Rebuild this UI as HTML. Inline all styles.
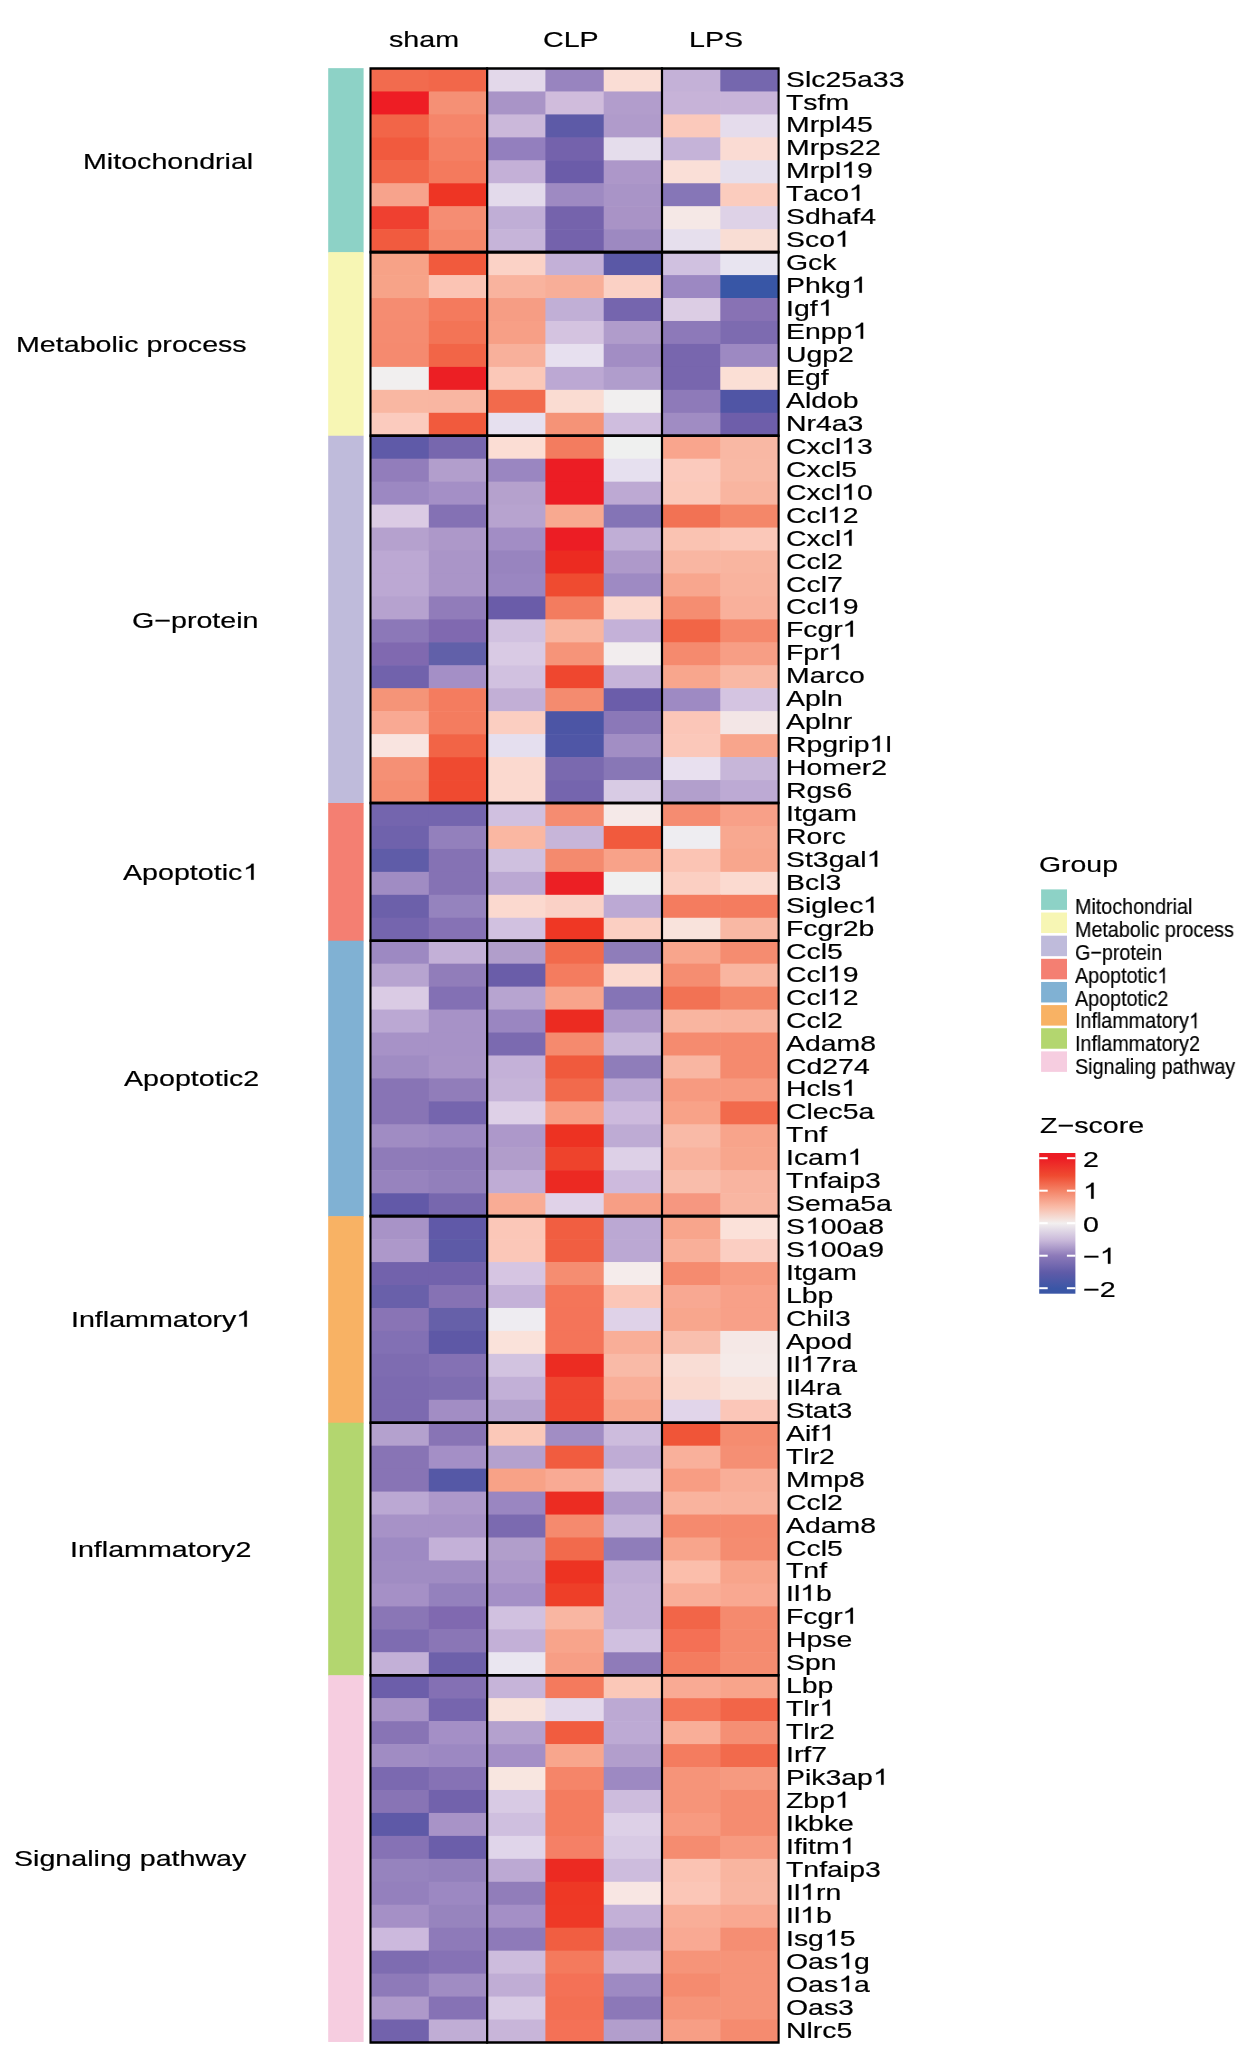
<!DOCTYPE html><html><head><meta charset="utf-8"><style>
html,body{margin:0;padding:0;background:#fff;}
body{width:1250px;height:2061px;position:relative;overflow:hidden;font-family:"Liberation Sans",sans-serif;color:#000;}
.t{position:absolute;white-space:nowrap;transform-origin:0 0;will-change:transform;font-kerning:none;font-feature-settings:"kern" 0;-webkit-text-stroke:0.2px #000;}
svg.m{position:absolute;left:0;top:0;}
</style></head><body>
<svg class="m" width="1250" height="2061" viewBox="0 0 1250 2061">
<rect x="370.5" y="68.5" width="58.9" height="23.55" fill="#F26B4E"/>
<rect x="428.8" y="68.5" width="58.9" height="23.55" fill="#F2674A"/>
<rect x="487.1" y="68.5" width="58.9" height="23.55" fill="#E3D8EA"/>
<rect x="545.4" y="68.5" width="58.9" height="23.55" fill="#9884BF"/>
<rect x="603.7" y="68.5" width="58.9" height="23.55" fill="#FADDD5"/>
<rect x="662" y="68.5" width="58.9" height="23.55" fill="#C4B1D7"/>
<rect x="720.3" y="68.5" width="58.9" height="23.55" fill="#7567AE"/>
<rect x="370.5" y="91.45" width="58.9" height="23.55" fill="#EE1D24"/>
<rect x="428.8" y="91.45" width="58.9" height="23.55" fill="#F59075"/>
<rect x="487.1" y="91.45" width="58.9" height="23.55" fill="#A994C7"/>
<rect x="545.4" y="91.45" width="58.9" height="23.55" fill="#D0BCDC"/>
<rect x="603.7" y="91.45" width="58.9" height="23.55" fill="#B29DCC"/>
<rect x="662" y="91.45" width="58.9" height="23.55" fill="#C7B3D8"/>
<rect x="720.3" y="91.45" width="58.9" height="23.55" fill="#C8B4D9"/>
<rect x="370.5" y="114.41" width="58.9" height="23.55" fill="#F26548"/>
<rect x="428.8" y="114.41" width="58.9" height="23.55" fill="#F5856A"/>
<rect x="487.1" y="114.41" width="58.9" height="23.55" fill="#CBB8DA"/>
<rect x="545.4" y="114.41" width="58.9" height="23.55" fill="#5D5AA7"/>
<rect x="603.7" y="114.41" width="58.9" height="23.55" fill="#B09BCB"/>
<rect x="662" y="114.41" width="58.9" height="23.55" fill="#FBC9BB"/>
<rect x="720.3" y="114.41" width="58.9" height="23.55" fill="#E5DCEC"/>
<rect x="370.5" y="137.36" width="58.9" height="23.55" fill="#F15A3E"/>
<rect x="428.8" y="137.36" width="58.9" height="23.55" fill="#F47F63"/>
<rect x="487.1" y="137.36" width="58.9" height="23.55" fill="#937FBE"/>
<rect x="545.4" y="137.36" width="58.9" height="23.55" fill="#7462AC"/>
<rect x="603.7" y="137.36" width="58.9" height="23.55" fill="#E5DDEC"/>
<rect x="662" y="137.36" width="58.9" height="23.55" fill="#C5B3D8"/>
<rect x="720.3" y="137.36" width="58.9" height="23.55" fill="#FADBD3"/>
<rect x="370.5" y="160.31" width="58.9" height="23.55" fill="#F26649"/>
<rect x="428.8" y="160.31" width="58.9" height="23.55" fill="#F47A5D"/>
<rect x="487.1" y="160.31" width="58.9" height="23.55" fill="#C4B0D7"/>
<rect x="545.4" y="160.31" width="58.9" height="23.55" fill="#6B5CA9"/>
<rect x="603.7" y="160.31" width="58.9" height="23.55" fill="#AD97C9"/>
<rect x="662" y="160.31" width="58.9" height="23.55" fill="#FADFD7"/>
<rect x="720.3" y="160.31" width="58.9" height="23.55" fill="#E5DFED"/>
<rect x="370.5" y="183.26" width="58.9" height="23.55" fill="#F7A38C"/>
<rect x="428.8" y="183.26" width="58.9" height="23.55" fill="#EE3524"/>
<rect x="487.1" y="183.26" width="58.9" height="23.55" fill="#E3DAEB"/>
<rect x="545.4" y="183.26" width="58.9" height="23.55" fill="#9E8AC2"/>
<rect x="603.7" y="183.26" width="58.9" height="23.55" fill="#A994C7"/>
<rect x="662" y="183.26" width="58.9" height="23.55" fill="#8676B7"/>
<rect x="720.3" y="183.26" width="58.9" height="23.55" fill="#FBCCBE"/>
<rect x="370.5" y="206.22" width="58.9" height="23.55" fill="#EF4030"/>
<rect x="428.8" y="206.22" width="58.9" height="23.55" fill="#F58D73"/>
<rect x="487.1" y="206.22" width="58.9" height="23.55" fill="#C0AED6"/>
<rect x="545.4" y="206.22" width="58.9" height="23.55" fill="#7563AC"/>
<rect x="603.7" y="206.22" width="58.9" height="23.55" fill="#A993C6"/>
<rect x="662" y="206.22" width="58.9" height="23.55" fill="#F5E8E6"/>
<rect x="720.3" y="206.22" width="58.9" height="23.55" fill="#DED2E7"/>
<rect x="370.5" y="229.17" width="58.9" height="23.55" fill="#F15B3F"/>
<rect x="428.8" y="229.17" width="58.9" height="23.55" fill="#F5876B"/>
<rect x="487.1" y="229.17" width="58.9" height="23.55" fill="#C6B4D9"/>
<rect x="545.4" y="229.17" width="58.9" height="23.55" fill="#7462AC"/>
<rect x="603.7" y="229.17" width="58.9" height="23.55" fill="#9D89C1"/>
<rect x="662" y="229.17" width="58.9" height="23.55" fill="#E6DFED"/>
<rect x="720.3" y="229.17" width="58.9" height="23.55" fill="#F9DDD4"/>
<rect x="370.5" y="252.12" width="58.9" height="23.55" fill="#F7A287"/>
<rect x="428.8" y="252.12" width="58.9" height="23.55" fill="#F15A3D"/>
<rect x="487.1" y="252.12" width="58.9" height="23.55" fill="#FBD2C6"/>
<rect x="545.4" y="252.12" width="58.9" height="23.55" fill="#C3B0D7"/>
<rect x="603.7" y="252.12" width="58.9" height="23.55" fill="#5A58A6"/>
<rect x="662" y="252.12" width="58.9" height="23.55" fill="#D0C1E0"/>
<rect x="720.3" y="252.12" width="58.9" height="23.55" fill="#E8E4F0"/>
<rect x="370.5" y="275.08" width="58.9" height="23.55" fill="#F7A388"/>
<rect x="428.8" y="275.08" width="58.9" height="23.55" fill="#FBC4B4"/>
<rect x="487.1" y="275.08" width="58.9" height="23.55" fill="#F9B39E"/>
<rect x="545.4" y="275.08" width="58.9" height="23.55" fill="#F8AE98"/>
<rect x="603.7" y="275.08" width="58.9" height="23.55" fill="#FBD1C5"/>
<rect x="662" y="275.08" width="58.9" height="23.55" fill="#9C88C2"/>
<rect x="720.3" y="275.08" width="58.9" height="23.55" fill="#3856A6"/>
<rect x="370.5" y="298.03" width="58.9" height="23.55" fill="#F58C71"/>
<rect x="428.8" y="298.03" width="58.9" height="23.55" fill="#F47A5D"/>
<rect x="487.1" y="298.03" width="58.9" height="23.55" fill="#F69D84"/>
<rect x="545.4" y="298.03" width="58.9" height="23.55" fill="#C1AFD6"/>
<rect x="603.7" y="298.03" width="58.9" height="23.55" fill="#7565AE"/>
<rect x="662" y="298.03" width="58.9" height="23.55" fill="#DCCDE4"/>
<rect x="720.3" y="298.03" width="58.9" height="23.55" fill="#8872B4"/>
<rect x="370.5" y="320.98" width="58.9" height="23.55" fill="#F58B70"/>
<rect x="428.8" y="320.98" width="58.9" height="23.55" fill="#F37456"/>
<rect x="487.1" y="320.98" width="58.9" height="23.55" fill="#F79F86"/>
<rect x="545.4" y="320.98" width="58.9" height="23.55" fill="#D4C3E0"/>
<rect x="603.7" y="320.98" width="58.9" height="23.55" fill="#B09CCB"/>
<rect x="662" y="320.98" width="58.9" height="23.55" fill="#8D79B9"/>
<rect x="720.3" y="320.98" width="58.9" height="23.55" fill="#7D6BB0"/>
<rect x="370.5" y="343.94" width="58.9" height="23.55" fill="#F58A6F"/>
<rect x="428.8" y="343.94" width="58.9" height="23.55" fill="#F26547"/>
<rect x="487.1" y="343.94" width="58.9" height="23.55" fill="#F8B09B"/>
<rect x="545.4" y="343.94" width="58.9" height="23.55" fill="#E7E0EF"/>
<rect x="603.7" y="343.94" width="58.9" height="23.55" fill="#A28DC4"/>
<rect x="662" y="343.94" width="58.9" height="23.55" fill="#7866AE"/>
<rect x="720.3" y="343.94" width="58.9" height="23.55" fill="#9D89C2"/>
<rect x="370.5" y="366.89" width="58.9" height="23.55" fill="#F1EFEF"/>
<rect x="428.8" y="366.89" width="58.9" height="23.55" fill="#EC1F24"/>
<rect x="487.1" y="366.89" width="58.9" height="23.55" fill="#FBC8B8"/>
<rect x="545.4" y="366.89" width="58.9" height="23.55" fill="#BCA8D3"/>
<rect x="603.7" y="366.89" width="58.9" height="23.55" fill="#B09DCC"/>
<rect x="662" y="366.89" width="58.9" height="23.55" fill="#7866AE"/>
<rect x="720.3" y="366.89" width="58.9" height="23.55" fill="#FBDFD5"/>
<rect x="370.5" y="389.84" width="58.9" height="23.55" fill="#F9B7A2"/>
<rect x="428.8" y="389.84" width="58.9" height="23.55" fill="#F9B6A2"/>
<rect x="487.1" y="389.84" width="58.9" height="23.55" fill="#F26A4C"/>
<rect x="545.4" y="389.84" width="58.9" height="23.55" fill="#FADCD2"/>
<rect x="603.7" y="389.84" width="58.9" height="23.55" fill="#F1EFEF"/>
<rect x="662" y="389.84" width="58.9" height="23.55" fill="#8E7AB9"/>
<rect x="720.3" y="389.84" width="58.9" height="23.55" fill="#5055A5"/>
<rect x="370.5" y="412.8" width="58.9" height="23.55" fill="#FBCBBE"/>
<rect x="428.8" y="412.8" width="58.9" height="23.55" fill="#F15A3D"/>
<rect x="487.1" y="412.8" width="58.9" height="23.55" fill="#E6E0EF"/>
<rect x="545.4" y="412.8" width="58.9" height="23.55" fill="#F59377"/>
<rect x="603.7" y="412.8" width="58.9" height="23.55" fill="#CFBDDE"/>
<rect x="662" y="412.8" width="58.9" height="23.55" fill="#A08CC3"/>
<rect x="720.3" y="412.8" width="58.9" height="23.55" fill="#6E5EAA"/>
<rect x="370.5" y="435.75" width="58.9" height="23.55" fill="#5F5AA8"/>
<rect x="428.8" y="435.75" width="58.9" height="23.55" fill="#7767AE"/>
<rect x="487.1" y="435.75" width="58.9" height="23.55" fill="#FBDDD4"/>
<rect x="545.4" y="435.75" width="58.9" height="23.55" fill="#F37C5F"/>
<rect x="603.7" y="435.75" width="58.9" height="23.55" fill="#EFF0EF"/>
<rect x="662" y="435.75" width="58.9" height="23.55" fill="#F9A58D"/>
<rect x="720.3" y="435.75" width="58.9" height="23.55" fill="#F9B8A4"/>
<rect x="370.5" y="458.7" width="58.9" height="23.55" fill="#927DBB"/>
<rect x="428.8" y="458.7" width="58.9" height="23.55" fill="#B29ECC"/>
<rect x="487.1" y="458.7" width="58.9" height="23.55" fill="#9A86C1"/>
<rect x="545.4" y="458.7" width="58.9" height="23.55" fill="#EC1D24"/>
<rect x="603.7" y="458.7" width="58.9" height="23.55" fill="#E6E0EF"/>
<rect x="662" y="458.7" width="58.9" height="23.55" fill="#FBCABD"/>
<rect x="720.3" y="458.7" width="58.9" height="23.55" fill="#F9B9A5"/>
<rect x="370.5" y="481.65" width="58.9" height="23.55" fill="#9C88C2"/>
<rect x="428.8" y="481.65" width="58.9" height="23.55" fill="#A48FC6"/>
<rect x="487.1" y="481.65" width="58.9" height="23.55" fill="#B5A1CD"/>
<rect x="545.4" y="481.65" width="58.9" height="23.55" fill="#EC1D24"/>
<rect x="603.7" y="481.65" width="58.9" height="23.55" fill="#BDA9D3"/>
<rect x="662" y="481.65" width="58.9" height="23.55" fill="#FBC9BA"/>
<rect x="720.3" y="481.65" width="58.9" height="23.55" fill="#F9B5A0"/>
<rect x="370.5" y="504.61" width="58.9" height="23.55" fill="#DBCBE4"/>
<rect x="428.8" y="504.61" width="58.9" height="23.55" fill="#8471B4"/>
<rect x="487.1" y="504.61" width="58.9" height="23.55" fill="#B7A3CF"/>
<rect x="545.4" y="504.61" width="58.9" height="23.55" fill="#F8A990"/>
<rect x="603.7" y="504.61" width="58.9" height="23.55" fill="#8474B6"/>
<rect x="662" y="504.61" width="58.9" height="23.55" fill="#F27254"/>
<rect x="720.3" y="504.61" width="58.9" height="23.55" fill="#F48769"/>
<rect x="370.5" y="527.56" width="58.9" height="23.55" fill="#B5A1CE"/>
<rect x="428.8" y="527.56" width="58.9" height="23.55" fill="#AD98C9"/>
<rect x="487.1" y="527.56" width="58.9" height="23.55" fill="#A28DC5"/>
<rect x="545.4" y="527.56" width="58.9" height="23.55" fill="#EC1D24"/>
<rect x="603.7" y="527.56" width="58.9" height="23.55" fill="#C0AED6"/>
<rect x="662" y="527.56" width="58.9" height="23.55" fill="#FAC3B2"/>
<rect x="720.3" y="527.56" width="58.9" height="23.55" fill="#FBC8B9"/>
<rect x="370.5" y="550.51" width="58.9" height="23.55" fill="#BCA8D3"/>
<rect x="428.8" y="550.51" width="58.9" height="23.55" fill="#AA95C8"/>
<rect x="487.1" y="550.51" width="58.9" height="23.55" fill="#9884BF"/>
<rect x="545.4" y="550.51" width="58.9" height="23.55" fill="#EC2B21"/>
<rect x="603.7" y="550.51" width="58.9" height="23.55" fill="#AE99CA"/>
<rect x="662" y="550.51" width="58.9" height="23.55" fill="#F9B6A2"/>
<rect x="720.3" y="550.51" width="58.9" height="23.55" fill="#F9B5A0"/>
<rect x="370.5" y="573.47" width="58.9" height="23.55" fill="#BCA8D3"/>
<rect x="428.8" y="573.47" width="58.9" height="23.55" fill="#AA95C8"/>
<rect x="487.1" y="573.47" width="58.9" height="23.55" fill="#9A86C1"/>
<rect x="545.4" y="573.47" width="58.9" height="23.55" fill="#EF4B30"/>
<rect x="603.7" y="573.47" width="58.9" height="23.55" fill="#9E8AC3"/>
<rect x="662" y="573.47" width="58.9" height="23.55" fill="#F8A68E"/>
<rect x="720.3" y="573.47" width="58.9" height="23.55" fill="#F9B39E"/>
<rect x="370.5" y="596.42" width="58.9" height="23.55" fill="#B6A2CF"/>
<rect x="428.8" y="596.42" width="58.9" height="23.55" fill="#917CBA"/>
<rect x="487.1" y="596.42" width="58.9" height="23.55" fill="#6A5CA9"/>
<rect x="545.4" y="596.42" width="58.9" height="23.55" fill="#F37C5F"/>
<rect x="603.7" y="596.42" width="58.9" height="23.55" fill="#FBD8CE"/>
<rect x="662" y="596.42" width="58.9" height="23.55" fill="#F58D71"/>
<rect x="720.3" y="596.42" width="58.9" height="23.55" fill="#F9B09B"/>
<rect x="370.5" y="619.37" width="58.9" height="23.55" fill="#8C78B8"/>
<rect x="428.8" y="619.37" width="58.9" height="23.55" fill="#8069B0"/>
<rect x="487.1" y="619.37" width="58.9" height="23.55" fill="#D1C1E0"/>
<rect x="545.4" y="619.37" width="58.9" height="23.55" fill="#F9B5A0"/>
<rect x="603.7" y="619.37" width="58.9" height="23.55" fill="#C4B1D8"/>
<rect x="662" y="619.37" width="58.9" height="23.55" fill="#F26546"/>
<rect x="720.3" y="619.37" width="58.9" height="23.55" fill="#F5886C"/>
<rect x="370.5" y="642.32" width="58.9" height="23.55" fill="#8069B0"/>
<rect x="428.8" y="642.32" width="58.9" height="23.55" fill="#6160A9"/>
<rect x="487.1" y="642.32" width="58.9" height="23.55" fill="#D9CAE4"/>
<rect x="545.4" y="642.32" width="58.9" height="23.55" fill="#F69479"/>
<rect x="603.7" y="642.32" width="58.9" height="23.55" fill="#F2EDEE"/>
<rect x="662" y="642.32" width="58.9" height="23.55" fill="#F58A6E"/>
<rect x="720.3" y="642.32" width="58.9" height="23.55" fill="#F79E85"/>
<rect x="370.5" y="665.28" width="58.9" height="23.55" fill="#7162AC"/>
<rect x="428.8" y="665.28" width="58.9" height="23.55" fill="#A48FC6"/>
<rect x="487.1" y="665.28" width="58.9" height="23.55" fill="#D1C1E0"/>
<rect x="545.4" y="665.28" width="58.9" height="23.55" fill="#EF472F"/>
<rect x="603.7" y="665.28" width="58.9" height="23.55" fill="#C6B4D9"/>
<rect x="662" y="665.28" width="58.9" height="23.55" fill="#F8A68D"/>
<rect x="720.3" y="665.28" width="58.9" height="23.55" fill="#F9B8A4"/>
<rect x="370.5" y="688.23" width="58.9" height="23.55" fill="#F59478"/>
<rect x="428.8" y="688.23" width="58.9" height="23.55" fill="#F47C5F"/>
<rect x="487.1" y="688.23" width="58.9" height="23.55" fill="#C2AFD6"/>
<rect x="545.4" y="688.23" width="58.9" height="23.55" fill="#F48B6F"/>
<rect x="603.7" y="688.23" width="58.9" height="23.55" fill="#6B5DAA"/>
<rect x="662" y="688.23" width="58.9" height="23.55" fill="#9E8AC3"/>
<rect x="720.3" y="688.23" width="58.9" height="23.55" fill="#D4C4E1"/>
<rect x="370.5" y="711.18" width="58.9" height="23.55" fill="#F9A993"/>
<rect x="428.8" y="711.18" width="58.9" height="23.55" fill="#F47C5F"/>
<rect x="487.1" y="711.18" width="58.9" height="23.55" fill="#FBCEC1"/>
<rect x="545.4" y="711.18" width="58.9" height="23.55" fill="#4C55A5"/>
<rect x="603.7" y="711.18" width="58.9" height="23.55" fill="#8B78B8"/>
<rect x="662" y="711.18" width="58.9" height="23.55" fill="#FBC6B8"/>
<rect x="720.3" y="711.18" width="58.9" height="23.55" fill="#F3E6E6"/>
<rect x="370.5" y="734.14" width="58.9" height="23.55" fill="#F9E4E0"/>
<rect x="428.8" y="734.14" width="58.9" height="23.55" fill="#F26446"/>
<rect x="487.1" y="734.14" width="58.9" height="23.55" fill="#E5DFEF"/>
<rect x="545.4" y="734.14" width="58.9" height="23.55" fill="#4F56A6"/>
<rect x="603.7" y="734.14" width="58.9" height="23.55" fill="#A28EC4"/>
<rect x="662" y="734.14" width="58.9" height="23.55" fill="#FBC8BA"/>
<rect x="720.3" y="734.14" width="58.9" height="23.55" fill="#F8A58C"/>
<rect x="370.5" y="757.09" width="58.9" height="23.55" fill="#F59075"/>
<rect x="428.8" y="757.09" width="58.9" height="23.55" fill="#EF4A30"/>
<rect x="487.1" y="757.09" width="58.9" height="23.55" fill="#FBD9CF"/>
<rect x="545.4" y="757.09" width="58.9" height="23.55" fill="#7A69AF"/>
<rect x="603.7" y="757.09" width="58.9" height="23.55" fill="#8877B6"/>
<rect x="662" y="757.09" width="58.9" height="23.55" fill="#E8E0EF"/>
<rect x="720.3" y="757.09" width="58.9" height="23.55" fill="#C7B6D9"/>
<rect x="370.5" y="780.04" width="58.9" height="23.55" fill="#F58D71"/>
<rect x="428.8" y="780.04" width="58.9" height="23.55" fill="#EF4A30"/>
<rect x="487.1" y="780.04" width="58.9" height="23.55" fill="#FBD9CF"/>
<rect x="545.4" y="780.04" width="58.9" height="23.55" fill="#7565AE"/>
<rect x="603.7" y="780.04" width="58.9" height="23.55" fill="#D8CBE4"/>
<rect x="662" y="780.04" width="58.9" height="23.55" fill="#B29FCC"/>
<rect x="720.3" y="780.04" width="58.9" height="23.55" fill="#BDAAD4"/>
<rect x="370.5" y="803" width="58.9" height="23.55" fill="#7465AE"/>
<rect x="428.8" y="803" width="58.9" height="23.55" fill="#7465AE"/>
<rect x="487.1" y="803" width="58.9" height="23.55" fill="#D0C0E0"/>
<rect x="545.4" y="803" width="58.9" height="23.55" fill="#F58C71"/>
<rect x="603.7" y="803" width="58.9" height="23.55" fill="#F5E9E8"/>
<rect x="662" y="803" width="58.9" height="23.55" fill="#F58C71"/>
<rect x="720.3" y="803" width="58.9" height="23.55" fill="#F8A088"/>
<rect x="370.5" y="825.95" width="58.9" height="23.55" fill="#6F62AC"/>
<rect x="428.8" y="825.95" width="58.9" height="23.55" fill="#9380BC"/>
<rect x="487.1" y="825.95" width="58.9" height="23.55" fill="#FAB7A2"/>
<rect x="545.4" y="825.95" width="58.9" height="23.55" fill="#C7B5D9"/>
<rect x="603.7" y="825.95" width="58.9" height="23.55" fill="#F15A3D"/>
<rect x="662" y="825.95" width="58.9" height="23.55" fill="#EEEDF1"/>
<rect x="720.3" y="825.95" width="58.9" height="23.55" fill="#F8A890"/>
<rect x="370.5" y="848.9" width="58.9" height="23.55" fill="#5F5CA8"/>
<rect x="428.8" y="848.9" width="58.9" height="23.55" fill="#8572B4"/>
<rect x="487.1" y="848.9" width="58.9" height="23.55" fill="#CFC0DF"/>
<rect x="545.4" y="848.9" width="58.9" height="23.55" fill="#F48A6E"/>
<rect x="603.7" y="848.9" width="58.9" height="23.55" fill="#F8A289"/>
<rect x="662" y="848.9" width="58.9" height="23.55" fill="#FBC4B4"/>
<rect x="720.3" y="848.9" width="58.9" height="23.55" fill="#F8A68D"/>
<rect x="370.5" y="871.86" width="58.9" height="23.55" fill="#A08CC3"/>
<rect x="428.8" y="871.86" width="58.9" height="23.55" fill="#8572B4"/>
<rect x="487.1" y="871.86" width="58.9" height="23.55" fill="#BBA8D3"/>
<rect x="545.4" y="871.86" width="58.9" height="23.55" fill="#EC1F24"/>
<rect x="603.7" y="871.86" width="58.9" height="23.55" fill="#F0F0F0"/>
<rect x="662" y="871.86" width="58.9" height="23.55" fill="#FBCFC2"/>
<rect x="720.3" y="871.86" width="58.9" height="23.55" fill="#FBDAD0"/>
<rect x="370.5" y="894.81" width="58.9" height="23.55" fill="#6C60AA"/>
<rect x="428.8" y="894.81" width="58.9" height="23.55" fill="#9583BE"/>
<rect x="487.1" y="894.81" width="58.9" height="23.55" fill="#FBD9CF"/>
<rect x="545.4" y="894.81" width="58.9" height="23.55" fill="#FAD1C6"/>
<rect x="603.7" y="894.81" width="58.9" height="23.55" fill="#BCA9D4"/>
<rect x="662" y="894.81" width="58.9" height="23.55" fill="#F47C5F"/>
<rect x="720.3" y="894.81" width="58.9" height="23.55" fill="#F47C5F"/>
<rect x="370.5" y="917.76" width="58.9" height="23.55" fill="#7565AE"/>
<rect x="428.8" y="917.76" width="58.9" height="23.55" fill="#8672B5"/>
<rect x="487.1" y="917.76" width="58.9" height="23.55" fill="#D1C1E0"/>
<rect x="545.4" y="917.76" width="58.9" height="23.55" fill="#EF3724"/>
<rect x="603.7" y="917.76" width="58.9" height="23.55" fill="#FBCFC2"/>
<rect x="662" y="917.76" width="58.9" height="23.55" fill="#F9E3DC"/>
<rect x="720.3" y="917.76" width="58.9" height="23.55" fill="#F9B8A4"/>
<rect x="370.5" y="940.71" width="58.9" height="23.55" fill="#9D89C2"/>
<rect x="428.8" y="940.71" width="58.9" height="23.55" fill="#C3B0D7"/>
<rect x="487.1" y="940.71" width="58.9" height="23.55" fill="#B19ECB"/>
<rect x="545.4" y="940.71" width="58.9" height="23.55" fill="#F26A4C"/>
<rect x="603.7" y="940.71" width="58.9" height="23.55" fill="#8F7DBA"/>
<rect x="662" y="940.71" width="58.9" height="23.55" fill="#F8A58C"/>
<rect x="720.3" y="940.71" width="58.9" height="23.55" fill="#F58C70"/>
<rect x="370.5" y="963.67" width="58.9" height="23.55" fill="#B7A4D0"/>
<rect x="428.8" y="963.67" width="58.9" height="23.55" fill="#917DBA"/>
<rect x="487.1" y="963.67" width="58.9" height="23.55" fill="#6A5DA9"/>
<rect x="545.4" y="963.67" width="58.9" height="23.55" fill="#F47C5F"/>
<rect x="603.7" y="963.67" width="58.9" height="23.55" fill="#FBD9CF"/>
<rect x="662" y="963.67" width="58.9" height="23.55" fill="#F58D71"/>
<rect x="720.3" y="963.67" width="58.9" height="23.55" fill="#F9B5A0"/>
<rect x="370.5" y="986.62" width="58.9" height="23.55" fill="#DACBE4"/>
<rect x="428.8" y="986.62" width="58.9" height="23.55" fill="#8370B4"/>
<rect x="487.1" y="986.62" width="58.9" height="23.55" fill="#B7A4D0"/>
<rect x="545.4" y="986.62" width="58.9" height="23.55" fill="#F8A48B"/>
<rect x="603.7" y="986.62" width="58.9" height="23.55" fill="#8574B6"/>
<rect x="662" y="986.62" width="58.9" height="23.55" fill="#F27254"/>
<rect x="720.3" y="986.62" width="58.9" height="23.55" fill="#F48769"/>
<rect x="370.5" y="1009.57" width="58.9" height="23.55" fill="#BBA8D3"/>
<rect x="428.8" y="1009.57" width="58.9" height="23.55" fill="#A792C7"/>
<rect x="487.1" y="1009.57" width="58.9" height="23.55" fill="#9A86C1"/>
<rect x="545.4" y="1009.57" width="58.9" height="23.55" fill="#EC2B21"/>
<rect x="603.7" y="1009.57" width="58.9" height="23.55" fill="#AD98CA"/>
<rect x="662" y="1009.57" width="58.9" height="23.55" fill="#F9B5A0"/>
<rect x="720.3" y="1009.57" width="58.9" height="23.55" fill="#F9B39E"/>
<rect x="370.5" y="1032.53" width="58.9" height="23.55" fill="#A792C7"/>
<rect x="428.8" y="1032.53" width="58.9" height="23.55" fill="#A792C7"/>
<rect x="487.1" y="1032.53" width="58.9" height="23.55" fill="#7B6AB0"/>
<rect x="545.4" y="1032.53" width="58.9" height="23.55" fill="#F58A6E"/>
<rect x="603.7" y="1032.53" width="58.9" height="23.55" fill="#C8B7DA"/>
<rect x="662" y="1032.53" width="58.9" height="23.55" fill="#F58B6F"/>
<rect x="720.3" y="1032.53" width="58.9" height="23.55" fill="#F58A6E"/>
<rect x="370.5" y="1055.48" width="58.9" height="23.55" fill="#A08CC3"/>
<rect x="428.8" y="1055.48" width="58.9" height="23.55" fill="#A893C7"/>
<rect x="487.1" y="1055.48" width="58.9" height="23.55" fill="#C4B1D8"/>
<rect x="545.4" y="1055.48" width="58.9" height="23.55" fill="#F05A3D"/>
<rect x="603.7" y="1055.48" width="58.9" height="23.55" fill="#8F7DBA"/>
<rect x="662" y="1055.48" width="58.9" height="23.55" fill="#F9B6A2"/>
<rect x="720.3" y="1055.48" width="58.9" height="23.55" fill="#F58A6E"/>
<rect x="370.5" y="1078.43" width="58.9" height="23.55" fill="#8874B5"/>
<rect x="428.8" y="1078.43" width="58.9" height="23.55" fill="#917DBA"/>
<rect x="487.1" y="1078.43" width="58.9" height="23.55" fill="#C6B4D9"/>
<rect x="545.4" y="1078.43" width="58.9" height="23.55" fill="#F26A4C"/>
<rect x="603.7" y="1078.43" width="58.9" height="23.55" fill="#BBA8D3"/>
<rect x="662" y="1078.43" width="58.9" height="23.55" fill="#F79A80"/>
<rect x="720.3" y="1078.43" width="58.9" height="23.55" fill="#F79A80"/>
<rect x="370.5" y="1101.38" width="58.9" height="23.55" fill="#8874B5"/>
<rect x="428.8" y="1101.38" width="58.9" height="23.55" fill="#7565AE"/>
<rect x="487.1" y="1101.38" width="58.9" height="23.55" fill="#DED0E7"/>
<rect x="545.4" y="1101.38" width="58.9" height="23.55" fill="#F89E85"/>
<rect x="603.7" y="1101.38" width="58.9" height="23.55" fill="#CDBADD"/>
<rect x="662" y="1101.38" width="58.9" height="23.55" fill="#F8A288"/>
<rect x="720.3" y="1101.38" width="58.9" height="23.55" fill="#F26A4C"/>
<rect x="370.5" y="1124.34" width="58.9" height="23.55" fill="#A08CC3"/>
<rect x="428.8" y="1124.34" width="58.9" height="23.55" fill="#9C88C2"/>
<rect x="487.1" y="1124.34" width="58.9" height="23.55" fill="#AD98CA"/>
<rect x="545.4" y="1124.34" width="58.9" height="23.55" fill="#ED3222"/>
<rect x="603.7" y="1124.34" width="58.9" height="23.55" fill="#BEABD4"/>
<rect x="662" y="1124.34" width="58.9" height="23.55" fill="#F9BAA7"/>
<rect x="720.3" y="1124.34" width="58.9" height="23.55" fill="#F8A48B"/>
<rect x="370.5" y="1147.29" width="58.9" height="23.55" fill="#8F7BB9"/>
<rect x="428.8" y="1147.29" width="58.9" height="23.55" fill="#8E7AB9"/>
<rect x="487.1" y="1147.29" width="58.9" height="23.55" fill="#B19DCB"/>
<rect x="545.4" y="1147.29" width="58.9" height="23.55" fill="#EE432C"/>
<rect x="603.7" y="1147.29" width="58.9" height="23.55" fill="#DDD0E7"/>
<rect x="662" y="1147.29" width="58.9" height="23.55" fill="#F9B29D"/>
<rect x="720.3" y="1147.29" width="58.9" height="23.55" fill="#F8A68D"/>
<rect x="370.5" y="1170.24" width="58.9" height="23.55" fill="#9783BE"/>
<rect x="428.8" y="1170.24" width="58.9" height="23.55" fill="#927FBB"/>
<rect x="487.1" y="1170.24" width="58.9" height="23.55" fill="#BFACD5"/>
<rect x="545.4" y="1170.24" width="58.9" height="23.55" fill="#EC2922"/>
<rect x="603.7" y="1170.24" width="58.9" height="23.55" fill="#CDBADD"/>
<rect x="662" y="1170.24" width="58.9" height="23.55" fill="#F9BDAB"/>
<rect x="720.3" y="1170.24" width="58.9" height="23.55" fill="#F9B4A0"/>
<rect x="370.5" y="1193.2" width="58.9" height="23.55" fill="#6259A8"/>
<rect x="428.8" y="1193.2" width="58.9" height="23.55" fill="#7767AE"/>
<rect x="487.1" y="1193.2" width="58.9" height="23.55" fill="#F9AC95"/>
<rect x="545.4" y="1193.2" width="58.9" height="23.55" fill="#E0D2E8"/>
<rect x="603.7" y="1193.2" width="58.9" height="23.55" fill="#F79E85"/>
<rect x="662" y="1193.2" width="58.9" height="23.55" fill="#F69780"/>
<rect x="720.3" y="1193.2" width="58.9" height="23.55" fill="#F9B6A2"/>
<rect x="370.5" y="1216.15" width="58.9" height="23.55" fill="#A893C7"/>
<rect x="428.8" y="1216.15" width="58.9" height="23.55" fill="#6059A8"/>
<rect x="487.1" y="1216.15" width="58.9" height="23.55" fill="#FBC7B8"/>
<rect x="545.4" y="1216.15" width="58.9" height="23.55" fill="#F15E41"/>
<rect x="603.7" y="1216.15" width="58.9" height="23.55" fill="#BBA8D3"/>
<rect x="662" y="1216.15" width="58.9" height="23.55" fill="#F8A58C"/>
<rect x="720.3" y="1216.15" width="58.9" height="23.55" fill="#FBE1D9"/>
<rect x="370.5" y="1239.1" width="58.9" height="23.55" fill="#AD98CA"/>
<rect x="428.8" y="1239.1" width="58.9" height="23.55" fill="#5D5AA7"/>
<rect x="487.1" y="1239.1" width="58.9" height="23.55" fill="#FBC7B8"/>
<rect x="545.4" y="1239.1" width="58.9" height="23.55" fill="#F15E41"/>
<rect x="603.7" y="1239.1" width="58.9" height="23.55" fill="#BBA8D3"/>
<rect x="662" y="1239.1" width="58.9" height="23.55" fill="#F9AF99"/>
<rect x="720.3" y="1239.1" width="58.9" height="23.55" fill="#FBCEC2"/>
<rect x="370.5" y="1262.06" width="58.9" height="23.55" fill="#7262AC"/>
<rect x="428.8" y="1262.06" width="58.9" height="23.55" fill="#7262AC"/>
<rect x="487.1" y="1262.06" width="58.9" height="23.55" fill="#D6C5E2"/>
<rect x="545.4" y="1262.06" width="58.9" height="23.55" fill="#F58D71"/>
<rect x="603.7" y="1262.06" width="58.9" height="23.55" fill="#F5ECEB"/>
<rect x="662" y="1262.06" width="58.9" height="23.55" fill="#F58B6F"/>
<rect x="720.3" y="1262.06" width="58.9" height="23.55" fill="#F79A80"/>
<rect x="370.5" y="1285.01" width="58.9" height="23.55" fill="#6960AA"/>
<rect x="428.8" y="1285.01" width="58.9" height="23.55" fill="#8672B4"/>
<rect x="487.1" y="1285.01" width="58.9" height="23.55" fill="#C4B1D8"/>
<rect x="545.4" y="1285.01" width="58.9" height="23.55" fill="#F47559"/>
<rect x="603.7" y="1285.01" width="58.9" height="23.55" fill="#FBC6B7"/>
<rect x="662" y="1285.01" width="58.9" height="23.55" fill="#F8A892"/>
<rect x="720.3" y="1285.01" width="58.9" height="23.55" fill="#F8A088"/>
<rect x="370.5" y="1307.96" width="58.9" height="23.55" fill="#8974B5"/>
<rect x="428.8" y="1307.96" width="58.9" height="23.55" fill="#6660A9"/>
<rect x="487.1" y="1307.96" width="58.9" height="23.55" fill="#EEECF1"/>
<rect x="545.4" y="1307.96" width="58.9" height="23.55" fill="#F47459"/>
<rect x="603.7" y="1307.96" width="58.9" height="23.55" fill="#DFD2E8"/>
<rect x="662" y="1307.96" width="58.9" height="23.55" fill="#F8A68D"/>
<rect x="720.3" y="1307.96" width="58.9" height="23.55" fill="#F8A088"/>
<rect x="370.5" y="1330.91" width="58.9" height="23.55" fill="#8270B4"/>
<rect x="428.8" y="1330.91" width="58.9" height="23.55" fill="#5E58A6"/>
<rect x="487.1" y="1330.91" width="58.9" height="23.55" fill="#FAE2DA"/>
<rect x="545.4" y="1330.91" width="58.9" height="23.55" fill="#F47459"/>
<rect x="603.7" y="1330.91" width="58.9" height="23.55" fill="#F9AE98"/>
<rect x="662" y="1330.91" width="58.9" height="23.55" fill="#F9BFAE"/>
<rect x="720.3" y="1330.91" width="58.9" height="23.55" fill="#F5E8E6"/>
<rect x="370.5" y="1353.87" width="58.9" height="23.55" fill="#7E6CB1"/>
<rect x="428.8" y="1353.87" width="58.9" height="23.55" fill="#8471B4"/>
<rect x="487.1" y="1353.87" width="58.9" height="23.55" fill="#D2C3E0"/>
<rect x="545.4" y="1353.87" width="58.9" height="23.55" fill="#EC2C22"/>
<rect x="603.7" y="1353.87" width="58.9" height="23.55" fill="#F9BAA7"/>
<rect x="662" y="1353.87" width="58.9" height="23.55" fill="#F9DDD5"/>
<rect x="720.3" y="1353.87" width="58.9" height="23.55" fill="#F5EAE8"/>
<rect x="370.5" y="1376.82" width="58.9" height="23.55" fill="#7C6AB0"/>
<rect x="428.8" y="1376.82" width="58.9" height="23.55" fill="#7E6DB1"/>
<rect x="487.1" y="1376.82" width="58.9" height="23.55" fill="#C2B0D7"/>
<rect x="545.4" y="1376.82" width="58.9" height="23.55" fill="#EF4630"/>
<rect x="603.7" y="1376.82" width="58.9" height="23.55" fill="#F9AE98"/>
<rect x="662" y="1376.82" width="58.9" height="23.55" fill="#FAD9CF"/>
<rect x="720.3" y="1376.82" width="58.9" height="23.55" fill="#F9E3DC"/>
<rect x="370.5" y="1399.77" width="58.9" height="23.55" fill="#7C6AB0"/>
<rect x="428.8" y="1399.77" width="58.9" height="23.55" fill="#A28DC4"/>
<rect x="487.1" y="1399.77" width="58.9" height="23.55" fill="#B4A2CE"/>
<rect x="545.4" y="1399.77" width="58.9" height="23.55" fill="#EF4630"/>
<rect x="603.7" y="1399.77" width="58.9" height="23.55" fill="#F8A58C"/>
<rect x="662" y="1399.77" width="58.9" height="23.55" fill="#E1D5EA"/>
<rect x="720.3" y="1399.77" width="58.9" height="23.55" fill="#FBC6B8"/>
<rect x="370.5" y="1422.73" width="58.9" height="23.55" fill="#B4A1CE"/>
<rect x="428.8" y="1422.73" width="58.9" height="23.55" fill="#8874B5"/>
<rect x="487.1" y="1422.73" width="58.9" height="23.55" fill="#FBC8B8"/>
<rect x="545.4" y="1422.73" width="58.9" height="23.55" fill="#A18DC4"/>
<rect x="603.7" y="1422.73" width="58.9" height="23.55" fill="#CDBCDD"/>
<rect x="662" y="1422.73" width="58.9" height="23.55" fill="#F05538"/>
<rect x="720.3" y="1422.73" width="58.9" height="23.55" fill="#F58C70"/>
<rect x="370.5" y="1445.68" width="58.9" height="23.55" fill="#8874B5"/>
<rect x="428.8" y="1445.68" width="58.9" height="23.55" fill="#A48FC6"/>
<rect x="487.1" y="1445.68" width="58.9" height="23.55" fill="#B4A1CE"/>
<rect x="545.4" y="1445.68" width="58.9" height="23.55" fill="#F15C3F"/>
<rect x="603.7" y="1445.68" width="58.9" height="23.55" fill="#BFACD5"/>
<rect x="662" y="1445.68" width="58.9" height="23.55" fill="#F9B09B"/>
<rect x="720.3" y="1445.68" width="58.9" height="23.55" fill="#F58F74"/>
<rect x="370.5" y="1468.63" width="58.9" height="23.55" fill="#8874B5"/>
<rect x="428.8" y="1468.63" width="58.9" height="23.55" fill="#5558A6"/>
<rect x="487.1" y="1468.63" width="58.9" height="23.55" fill="#F8A287"/>
<rect x="545.4" y="1468.63" width="58.9" height="23.55" fill="#F9AA94"/>
<rect x="603.7" y="1468.63" width="58.9" height="23.55" fill="#D8C9E3"/>
<rect x="662" y="1468.63" width="58.9" height="23.55" fill="#F89D83"/>
<rect x="720.3" y="1468.63" width="58.9" height="23.55" fill="#F9AE98"/>
<rect x="370.5" y="1491.59" width="58.9" height="23.55" fill="#BBA8D3"/>
<rect x="428.8" y="1491.59" width="58.9" height="23.55" fill="#AD98CA"/>
<rect x="487.1" y="1491.59" width="58.9" height="23.55" fill="#9A86C1"/>
<rect x="545.4" y="1491.59" width="58.9" height="23.55" fill="#EC2C22"/>
<rect x="603.7" y="1491.59" width="58.9" height="23.55" fill="#AE99CA"/>
<rect x="662" y="1491.59" width="58.9" height="23.55" fill="#F9B39E"/>
<rect x="720.3" y="1491.59" width="58.9" height="23.55" fill="#F9B29D"/>
<rect x="370.5" y="1514.54" width="58.9" height="23.55" fill="#A792C7"/>
<rect x="428.8" y="1514.54" width="58.9" height="23.55" fill="#A792C7"/>
<rect x="487.1" y="1514.54" width="58.9" height="23.55" fill="#7B6AB0"/>
<rect x="545.4" y="1514.54" width="58.9" height="23.55" fill="#F58A6E"/>
<rect x="603.7" y="1514.54" width="58.9" height="23.55" fill="#C8B7DA"/>
<rect x="662" y="1514.54" width="58.9" height="23.55" fill="#F58A6E"/>
<rect x="720.3" y="1514.54" width="58.9" height="23.55" fill="#F58A6E"/>
<rect x="370.5" y="1537.49" width="58.9" height="23.55" fill="#9E8AC3"/>
<rect x="428.8" y="1537.49" width="58.9" height="23.55" fill="#C4B1D8"/>
<rect x="487.1" y="1537.49" width="58.9" height="23.55" fill="#B19ECB"/>
<rect x="545.4" y="1537.49" width="58.9" height="23.55" fill="#F26A4C"/>
<rect x="603.7" y="1537.49" width="58.9" height="23.55" fill="#8F7DBA"/>
<rect x="662" y="1537.49" width="58.9" height="23.55" fill="#F8A58C"/>
<rect x="720.3" y="1537.49" width="58.9" height="23.55" fill="#F58C70"/>
<rect x="370.5" y="1560.44" width="58.9" height="23.55" fill="#A08CC3"/>
<rect x="428.8" y="1560.44" width="58.9" height="23.55" fill="#A08CC3"/>
<rect x="487.1" y="1560.44" width="58.9" height="23.55" fill="#AD98CA"/>
<rect x="545.4" y="1560.44" width="58.9" height="23.55" fill="#ED3322"/>
<rect x="603.7" y="1560.44" width="58.9" height="23.55" fill="#BFACD5"/>
<rect x="662" y="1560.44" width="58.9" height="23.55" fill="#FBBEAB"/>
<rect x="720.3" y="1560.44" width="58.9" height="23.55" fill="#F8A48B"/>
<rect x="370.5" y="1583.4" width="58.9" height="23.55" fill="#A590C6"/>
<rect x="428.8" y="1583.4" width="58.9" height="23.55" fill="#9481BD"/>
<rect x="487.1" y="1583.4" width="58.9" height="23.55" fill="#A48FC6"/>
<rect x="545.4" y="1583.4" width="58.9" height="23.55" fill="#EE3F28"/>
<rect x="603.7" y="1583.4" width="58.9" height="23.55" fill="#C3B0D7"/>
<rect x="662" y="1583.4" width="58.9" height="23.55" fill="#F9AE98"/>
<rect x="720.3" y="1583.4" width="58.9" height="23.55" fill="#F9A891"/>
<rect x="370.5" y="1606.35" width="58.9" height="23.55" fill="#8A76B6"/>
<rect x="428.8" y="1606.35" width="58.9" height="23.55" fill="#8069B0"/>
<rect x="487.1" y="1606.35" width="58.9" height="23.55" fill="#D1C1E0"/>
<rect x="545.4" y="1606.35" width="58.9" height="23.55" fill="#F9B6A2"/>
<rect x="603.7" y="1606.35" width="58.9" height="23.55" fill="#C3B0D7"/>
<rect x="662" y="1606.35" width="58.9" height="23.55" fill="#F26548"/>
<rect x="720.3" y="1606.35" width="58.9" height="23.55" fill="#F58A6E"/>
<rect x="370.5" y="1629.3" width="58.9" height="23.55" fill="#7E6CB1"/>
<rect x="428.8" y="1629.3" width="58.9" height="23.55" fill="#8A76B6"/>
<rect x="487.1" y="1629.3" width="58.9" height="23.55" fill="#C3B0D7"/>
<rect x="545.4" y="1629.3" width="58.9" height="23.55" fill="#F8A48B"/>
<rect x="603.7" y="1629.3" width="58.9" height="23.55" fill="#D0C0E0"/>
<rect x="662" y="1629.3" width="58.9" height="23.55" fill="#F47055"/>
<rect x="720.3" y="1629.3" width="58.9" height="23.55" fill="#F58A6E"/>
<rect x="370.5" y="1652.26" width="58.9" height="23.55" fill="#C3B0D7"/>
<rect x="428.8" y="1652.26" width="58.9" height="23.55" fill="#6D60AA"/>
<rect x="487.1" y="1652.26" width="58.9" height="23.55" fill="#EAE6F0"/>
<rect x="545.4" y="1652.26" width="58.9" height="23.55" fill="#F79E85"/>
<rect x="603.7" y="1652.26" width="58.9" height="23.55" fill="#8F7BB9"/>
<rect x="662" y="1652.26" width="58.9" height="23.55" fill="#F47C5F"/>
<rect x="720.3" y="1652.26" width="58.9" height="23.55" fill="#F58C70"/>
<rect x="370.5" y="1675.21" width="58.9" height="23.55" fill="#6C5EAA"/>
<rect x="428.8" y="1675.21" width="58.9" height="23.55" fill="#8470B4"/>
<rect x="487.1" y="1675.21" width="58.9" height="23.55" fill="#C6B4D9"/>
<rect x="545.4" y="1675.21" width="58.9" height="23.55" fill="#F47A5D"/>
<rect x="603.7" y="1675.21" width="58.9" height="23.55" fill="#FBC8B8"/>
<rect x="662" y="1675.21" width="58.9" height="23.55" fill="#F9AA94"/>
<rect x="720.3" y="1675.21" width="58.9" height="23.55" fill="#F8A48B"/>
<rect x="370.5" y="1698.16" width="58.9" height="23.55" fill="#A893C7"/>
<rect x="428.8" y="1698.16" width="58.9" height="23.55" fill="#7665AE"/>
<rect x="487.1" y="1698.16" width="58.9" height="23.55" fill="#F9E2DB"/>
<rect x="545.4" y="1698.16" width="58.9" height="23.55" fill="#E3D8EB"/>
<rect x="603.7" y="1698.16" width="58.9" height="23.55" fill="#BCA9D3"/>
<rect x="662" y="1698.16" width="58.9" height="23.55" fill="#F47558"/>
<rect x="720.3" y="1698.16" width="58.9" height="23.55" fill="#F26548"/>
<rect x="370.5" y="1721.12" width="58.9" height="23.55" fill="#8874B5"/>
<rect x="428.8" y="1721.12" width="58.9" height="23.55" fill="#A48FC6"/>
<rect x="487.1" y="1721.12" width="58.9" height="23.55" fill="#B4A1CE"/>
<rect x="545.4" y="1721.12" width="58.9" height="23.55" fill="#F15C3F"/>
<rect x="603.7" y="1721.12" width="58.9" height="23.55" fill="#BDAAD4"/>
<rect x="662" y="1721.12" width="58.9" height="23.55" fill="#F9AE98"/>
<rect x="720.3" y="1721.12" width="58.9" height="23.55" fill="#F58F74"/>
<rect x="370.5" y="1744.07" width="58.9" height="23.55" fill="#A08CC3"/>
<rect x="428.8" y="1744.07" width="58.9" height="23.55" fill="#9C88C2"/>
<rect x="487.1" y="1744.07" width="58.9" height="23.55" fill="#A48FC6"/>
<rect x="545.4" y="1744.07" width="58.9" height="23.55" fill="#F8A68D"/>
<rect x="603.7" y="1744.07" width="58.9" height="23.55" fill="#B29ECC"/>
<rect x="662" y="1744.07" width="58.9" height="23.55" fill="#F47C5F"/>
<rect x="720.3" y="1744.07" width="58.9" height="23.55" fill="#F26A4C"/>
<rect x="370.5" y="1767.02" width="58.9" height="23.55" fill="#7B69B0"/>
<rect x="428.8" y="1767.02" width="58.9" height="23.55" fill="#8672B5"/>
<rect x="487.1" y="1767.02" width="58.9" height="23.55" fill="#F8E6E0"/>
<rect x="545.4" y="1767.02" width="58.9" height="23.55" fill="#F58569"/>
<rect x="603.7" y="1767.02" width="58.9" height="23.55" fill="#9D89C2"/>
<rect x="662" y="1767.02" width="58.9" height="23.55" fill="#F69479"/>
<rect x="720.3" y="1767.02" width="58.9" height="23.55" fill="#F69A80"/>
<rect x="370.5" y="1789.97" width="58.9" height="23.55" fill="#8874B5"/>
<rect x="428.8" y="1789.97" width="58.9" height="23.55" fill="#7262AC"/>
<rect x="487.1" y="1789.97" width="58.9" height="23.55" fill="#D8CAE4"/>
<rect x="545.4" y="1789.97" width="58.9" height="23.55" fill="#F47C5F"/>
<rect x="603.7" y="1789.97" width="58.9" height="23.55" fill="#CDBCDD"/>
<rect x="662" y="1789.97" width="58.9" height="23.55" fill="#F69479"/>
<rect x="720.3" y="1789.97" width="58.9" height="23.55" fill="#F58C70"/>
<rect x="370.5" y="1812.93" width="58.9" height="23.55" fill="#5E59A7"/>
<rect x="428.8" y="1812.93" width="58.9" height="23.55" fill="#A893C7"/>
<rect x="487.1" y="1812.93" width="58.9" height="23.55" fill="#CFBFDF"/>
<rect x="545.4" y="1812.93" width="58.9" height="23.55" fill="#F47C5F"/>
<rect x="603.7" y="1812.93" width="58.9" height="23.55" fill="#DDD0E7"/>
<rect x="662" y="1812.93" width="58.9" height="23.55" fill="#F79A80"/>
<rect x="720.3" y="1812.93" width="58.9" height="23.55" fill="#F58C70"/>
<rect x="370.5" y="1835.88" width="58.9" height="23.55" fill="#8672B5"/>
<rect x="428.8" y="1835.88" width="58.9" height="23.55" fill="#6B5EAA"/>
<rect x="487.1" y="1835.88" width="58.9" height="23.55" fill="#E0D5EA"/>
<rect x="545.4" y="1835.88" width="58.9" height="23.55" fill="#F58066"/>
<rect x="603.7" y="1835.88" width="58.9" height="23.55" fill="#D8CAE4"/>
<rect x="662" y="1835.88" width="58.9" height="23.55" fill="#F58C70"/>
<rect x="720.3" y="1835.88" width="58.9" height="23.55" fill="#F79A80"/>
<rect x="370.5" y="1858.83" width="58.9" height="23.55" fill="#9683BE"/>
<rect x="428.8" y="1858.83" width="58.9" height="23.55" fill="#9380BC"/>
<rect x="487.1" y="1858.83" width="58.9" height="23.55" fill="#BCA9D3"/>
<rect x="545.4" y="1858.83" width="58.9" height="23.55" fill="#EC2A22"/>
<rect x="603.7" y="1858.83" width="58.9" height="23.55" fill="#CDBCDD"/>
<rect x="662" y="1858.83" width="58.9" height="23.55" fill="#FBC3B3"/>
<rect x="720.3" y="1858.83" width="58.9" height="23.55" fill="#F9B5A0"/>
<rect x="370.5" y="1881.79" width="58.9" height="23.55" fill="#9480BD"/>
<rect x="428.8" y="1881.79" width="58.9" height="23.55" fill="#9C88C2"/>
<rect x="487.1" y="1881.79" width="58.9" height="23.55" fill="#917DBA"/>
<rect x="545.4" y="1881.79" width="58.9" height="23.55" fill="#EE3825"/>
<rect x="603.7" y="1881.79" width="58.9" height="23.55" fill="#F8E6E3"/>
<rect x="662" y="1881.79" width="58.9" height="23.55" fill="#FBC6B7"/>
<rect x="720.3" y="1881.79" width="58.9" height="23.55" fill="#F9B6A2"/>
<rect x="370.5" y="1904.74" width="58.9" height="23.55" fill="#A590C6"/>
<rect x="428.8" y="1904.74" width="58.9" height="23.55" fill="#9784BE"/>
<rect x="487.1" y="1904.74" width="58.9" height="23.55" fill="#A48FC6"/>
<rect x="545.4" y="1904.74" width="58.9" height="23.55" fill="#EE3926"/>
<rect x="603.7" y="1904.74" width="58.9" height="23.55" fill="#C3B0D7"/>
<rect x="662" y="1904.74" width="58.9" height="23.55" fill="#F9AE98"/>
<rect x="720.3" y="1904.74" width="58.9" height="23.55" fill="#F9A891"/>
<rect x="370.5" y="1927.69" width="58.9" height="23.55" fill="#CCB9DD"/>
<rect x="428.8" y="1927.69" width="58.9" height="23.55" fill="#8E7AB9"/>
<rect x="487.1" y="1927.69" width="58.9" height="23.55" fill="#8E7AB9"/>
<rect x="545.4" y="1927.69" width="58.9" height="23.55" fill="#F15E41"/>
<rect x="603.7" y="1927.69" width="58.9" height="23.55" fill="#AE99CA"/>
<rect x="662" y="1927.69" width="58.9" height="23.55" fill="#F9A993"/>
<rect x="720.3" y="1927.69" width="58.9" height="23.55" fill="#F58E73"/>
<rect x="370.5" y="1950.65" width="58.9" height="23.55" fill="#7E6CB1"/>
<rect x="428.8" y="1950.65" width="58.9" height="23.55" fill="#8672B5"/>
<rect x="487.1" y="1950.65" width="58.9" height="23.55" fill="#CDBCDD"/>
<rect x="545.4" y="1950.65" width="58.9" height="23.55" fill="#F47A5D"/>
<rect x="603.7" y="1950.65" width="58.9" height="23.55" fill="#C8B5D9"/>
<rect x="662" y="1950.65" width="58.9" height="23.55" fill="#F69479"/>
<rect x="720.3" y="1950.65" width="58.9" height="23.55" fill="#F69479"/>
<rect x="370.5" y="1973.6" width="58.9" height="23.55" fill="#8E7AB9"/>
<rect x="428.8" y="1973.6" width="58.9" height="23.55" fill="#A08CC3"/>
<rect x="487.1" y="1973.6" width="58.9" height="23.55" fill="#C0ADD5"/>
<rect x="545.4" y="1973.6" width="58.9" height="23.55" fill="#F47156"/>
<rect x="603.7" y="1973.6" width="58.9" height="23.55" fill="#9E8AC3"/>
<rect x="662" y="1973.6" width="58.9" height="23.55" fill="#F58B6F"/>
<rect x="720.3" y="1973.6" width="58.9" height="23.55" fill="#F69479"/>
<rect x="370.5" y="1996.55" width="58.9" height="23.55" fill="#AE99CA"/>
<rect x="428.8" y="1996.55" width="58.9" height="23.55" fill="#8672B5"/>
<rect x="487.1" y="1996.55" width="58.9" height="23.55" fill="#D8CAE4"/>
<rect x="545.4" y="1996.55" width="58.9" height="23.55" fill="#F36F53"/>
<rect x="603.7" y="1996.55" width="58.9" height="23.55" fill="#8C78B8"/>
<rect x="662" y="1996.55" width="58.9" height="23.55" fill="#F69479"/>
<rect x="720.3" y="1996.55" width="58.9" height="23.55" fill="#F69479"/>
<rect x="370.5" y="2019.5" width="58.9" height="23.55" fill="#7262AC"/>
<rect x="428.8" y="2019.5" width="58.9" height="23.55" fill="#C0ADD5"/>
<rect x="487.1" y="2019.5" width="58.9" height="23.55" fill="#C8B5D9"/>
<rect x="545.4" y="2019.5" width="58.9" height="23.55" fill="#F47156"/>
<rect x="603.7" y="2019.5" width="58.9" height="23.55" fill="#B29ECC"/>
<rect x="662" y="2019.5" width="58.9" height="23.55" fill="#F79E85"/>
<rect x="720.3" y="2019.5" width="58.9" height="23.55" fill="#F58B6F"/>
<rect x="328.2" y="68.15" width="35.4" height="184.57" fill="#8DD2C6"/>
<rect x="328.2" y="252.12" width="35.4" height="184.22" fill="#F7F6B4"/>
<rect x="328.2" y="435.75" width="35.4" height="367.85" fill="#BFBBDB"/>
<rect x="328.2" y="803" width="35.4" height="138.32" fill="#F47F72"/>
<rect x="328.2" y="940.71" width="35.4" height="276.04" fill="#80B1D3"/>
<rect x="328.2" y="1216.15" width="35.4" height="207.18" fill="#F8B264"/>
<rect x="328.2" y="1422.73" width="35.4" height="253.08" fill="#B3D66F"/>
<rect x="328.2" y="1675.21" width="35.4" height="366.75" fill="#F6CDE0"/>
<path d="M369.45,67.2H488.15V253.42H369.45ZM371.55,69.8V250.82H486.05V69.8Z" fill="#000" fill-rule="evenodd"/>
<path d="M486.05,67.2H663.05V253.42H486.05ZM488.15,69.8V250.82H660.95V69.8Z" fill="#000" fill-rule="evenodd"/>
<path d="M660.95,67.2H779.65V253.42H660.95ZM663.05,69.8V250.82H777.55V69.8Z" fill="#000" fill-rule="evenodd"/>
<path d="M369.45,250.82H488.15V437.05H369.45ZM371.55,253.42V434.45H486.05V253.42Z" fill="#000" fill-rule="evenodd"/>
<path d="M486.05,250.82H663.05V437.05H486.05ZM488.15,253.42V434.45H660.95V253.42Z" fill="#000" fill-rule="evenodd"/>
<path d="M660.95,250.82H779.65V437.05H660.95ZM663.05,253.42V434.45H777.55V253.42Z" fill="#000" fill-rule="evenodd"/>
<path d="M369.45,434.45H488.15V804.3H369.45ZM371.55,437.05V801.7H486.05V437.05Z" fill="#000" fill-rule="evenodd"/>
<path d="M486.05,434.45H663.05V804.3H486.05ZM488.15,437.05V801.7H660.95V437.05Z" fill="#000" fill-rule="evenodd"/>
<path d="M660.95,434.45H779.65V804.3H660.95ZM663.05,437.05V801.7H777.55V437.05Z" fill="#000" fill-rule="evenodd"/>
<path d="M369.45,801.7H488.15V942.01H369.45ZM371.55,804.3V939.41H486.05V804.3Z" fill="#000" fill-rule="evenodd"/>
<path d="M486.05,801.7H663.05V942.01H486.05ZM488.15,804.3V939.41H660.95V804.3Z" fill="#000" fill-rule="evenodd"/>
<path d="M660.95,801.7H779.65V942.01H660.95ZM663.05,804.3V939.41H777.55V804.3Z" fill="#000" fill-rule="evenodd"/>
<path d="M369.45,939.41H488.15V1217.45H369.45ZM371.55,942.01V1214.85H486.05V942.01Z" fill="#000" fill-rule="evenodd"/>
<path d="M486.05,939.41H663.05V1217.45H486.05ZM488.15,942.01V1214.85H660.95V942.01Z" fill="#000" fill-rule="evenodd"/>
<path d="M660.95,939.41H779.65V1217.45H660.95ZM663.05,942.01V1214.85H777.55V942.01Z" fill="#000" fill-rule="evenodd"/>
<path d="M369.45,1214.85H488.15V1424.03H369.45ZM371.55,1217.45V1421.43H486.05V1217.45Z" fill="#000" fill-rule="evenodd"/>
<path d="M486.05,1214.85H663.05V1424.03H486.05ZM488.15,1217.45V1421.43H660.95V1217.45Z" fill="#000" fill-rule="evenodd"/>
<path d="M660.95,1214.85H779.65V1424.03H660.95ZM663.05,1217.45V1421.43H777.55V1217.45Z" fill="#000" fill-rule="evenodd"/>
<path d="M369.45,1421.43H488.15V1676.51H369.45ZM371.55,1424.03V1673.91H486.05V1424.03Z" fill="#000" fill-rule="evenodd"/>
<path d="M486.05,1421.43H663.05V1676.51H486.05ZM488.15,1424.03V1673.91H660.95V1424.03Z" fill="#000" fill-rule="evenodd"/>
<path d="M660.95,1421.43H779.65V1676.51H660.95ZM663.05,1424.03V1673.91H777.55V1424.03Z" fill="#000" fill-rule="evenodd"/>
<path d="M369.45,1673.91H488.15V2043.76H369.45ZM371.55,1676.51V2041.16H486.05V1676.51Z" fill="#000" fill-rule="evenodd"/>
<path d="M486.05,1673.91H663.05V2043.76H486.05ZM488.15,1676.51V2041.16H660.95V1676.51Z" fill="#000" fill-rule="evenodd"/>
<path d="M660.95,1673.91H779.65V2043.76H660.95ZM663.05,1676.51V2041.16H777.55V1676.51Z" fill="#000" fill-rule="evenodd"/>
<rect x="1041.1" y="889.4" width="25.9" height="20.5" fill="#8DD2C6"/>
<rect x="1041.1" y="912.54" width="25.9" height="20.5" fill="#F7F6B4"/>
<rect x="1041.1" y="935.68" width="25.9" height="20.5" fill="#BFBBDB"/>
<rect x="1041.1" y="958.82" width="25.9" height="20.5" fill="#F47F72"/>
<rect x="1041.1" y="981.96" width="25.9" height="20.5" fill="#80B1D3"/>
<rect x="1041.1" y="1005.1" width="25.9" height="20.5" fill="#F8B264"/>
<rect x="1041.1" y="1028.24" width="25.9" height="20.5" fill="#B3D66F"/>
<rect x="1041.1" y="1051.38" width="25.9" height="20.5" fill="#F6CDE0"/>
<defs><linearGradient id="zg" x1="0" y1="0" x2="0" y2="1"><stop offset="0" stop-color="#EC1C24"/><stop offset="0.035" stop-color="#EC1C24"/><stop offset="0.16" stop-color="#EF4A30"/><stop offset="0.27" stop-color="#F48468"/><stop offset="0.38" stop-color="#F9B9A5"/><stop offset="0.5" stop-color="#F2EFEF"/><stop offset="0.62" stop-color="#C9B9DA"/><stop offset="0.73" stop-color="#8D7AB9"/><stop offset="0.85" stop-color="#5F5BA8"/><stop offset="0.965" stop-color="#3A56A6"/><stop offset="1" stop-color="#3A56A6"/></linearGradient></defs>
<rect x="1039.2" y="1153" width="36.2" height="140.7" fill="url(#zg)"/>
<rect x="1039.2" y="1157.2" width="8.5" height="2" fill="#fff"/>
<rect x="1066.9" y="1157.2" width="8.5" height="2" fill="#fff"/>
<rect x="1039.2" y="1189.7" width="8.5" height="2" fill="#fff"/>
<rect x="1066.9" y="1189.7" width="8.5" height="2" fill="#fff"/>
<rect x="1039.2" y="1222.2" width="8.5" height="2" fill="#fff"/>
<rect x="1066.9" y="1222.2" width="8.5" height="2" fill="#fff"/>
<rect x="1039.2" y="1254.7" width="8.5" height="2" fill="#fff"/>
<rect x="1066.9" y="1254.7" width="8.5" height="2" fill="#fff"/>
<rect x="1039.2" y="1287.2" width="8.5" height="2" fill="#fff"/>
<rect x="1066.9" y="1287.2" width="8.5" height="2" fill="#fff"/>
</svg>
<div class="t" style="left:389.10px;top:28.65px;font-size:22.2px;line-height:22.2px;transform:scaleX(1.29)">sham</div>
<div class="t" style="left:542.80px;top:28.85px;font-size:22.2px;line-height:22.2px;transform:scaleX(1.29)">CLP</div>
<div class="t" style="left:689.30px;top:28.85px;font-size:22.2px;line-height:22.2px;transform:scaleX(1.29)">LPS</div>
<div class="t" style="left:785.70px;top:68.55px;font-size:22.2px;line-height:22.2px;transform:scaleX(1.28)">Slc25a33</div>
<div class="t" style="left:785.70px;top:91.50px;font-size:22.2px;line-height:22.2px;transform:scaleX(1.28)">Tsfm</div>
<div class="t" style="left:785.70px;top:114.45px;font-size:22.2px;line-height:22.2px;transform:scaleX(1.28)">Mrpl45</div>
<div class="t" style="left:785.70px;top:137.41px;font-size:22.2px;line-height:22.2px;transform:scaleX(1.28)">Mrps22</div>
<div class="t" style="left:785.70px;top:160.36px;font-size:22.2px;line-height:22.2px;transform:scaleX(1.28)">Mrpl<svg viewBox="0 0 1139 1536" style="width:0.5562em;height:0.75em;vertical-align:baseline;display:inline-block;overflow:visible"><path transform="matrix(1 0 0 -1 0 1536)" d="M763,0 L583,0 L583,1147 C540,1106 480,1064 412,1023 C340,981 276,950 223,930 L223,1104 C318,1149 400,1203 470,1266 C540,1329 590,1398 620,1472 L763,1472 Z" stroke="#000" stroke-width="18"/></svg>9</div>
<div class="t" style="left:785.70px;top:183.31px;font-size:22.2px;line-height:22.2px;transform:scaleX(1.28)">Taco<svg viewBox="0 0 1139 1536" style="width:0.5562em;height:0.75em;vertical-align:baseline;display:inline-block;overflow:visible"><path transform="matrix(1 0 0 -1 0 1536)" d="M763,0 L583,0 L583,1147 C540,1106 480,1064 412,1023 C340,981 276,950 223,930 L223,1104 C318,1149 400,1203 470,1266 C540,1329 590,1398 620,1472 L763,1472 Z" stroke="#000" stroke-width="18"/></svg></div>
<div class="t" style="left:785.70px;top:206.27px;font-size:22.2px;line-height:22.2px;transform:scaleX(1.28)">Sdhaf4</div>
<div class="t" style="left:785.70px;top:229.22px;font-size:22.2px;line-height:22.2px;transform:scaleX(1.28)">Sco<svg viewBox="0 0 1139 1536" style="width:0.5562em;height:0.75em;vertical-align:baseline;display:inline-block;overflow:visible"><path transform="matrix(1 0 0 -1 0 1536)" d="M763,0 L583,0 L583,1147 C540,1106 480,1064 412,1023 C340,981 276,950 223,930 L223,1104 C318,1149 400,1203 470,1266 C540,1329 590,1398 620,1472 L763,1472 Z" stroke="#000" stroke-width="18"/></svg></div>
<div class="t" style="left:785.70px;top:252.17px;font-size:22.2px;line-height:22.2px;transform:scaleX(1.28)">Gck</div>
<div class="t" style="left:785.70px;top:275.12px;font-size:22.2px;line-height:22.2px;transform:scaleX(1.28)">Phkg<svg viewBox="0 0 1139 1536" style="width:0.5562em;height:0.75em;vertical-align:baseline;display:inline-block;overflow:visible"><path transform="matrix(1 0 0 -1 0 1536)" d="M763,0 L583,0 L583,1147 C540,1106 480,1064 412,1023 C340,981 276,950 223,930 L223,1104 C318,1149 400,1203 470,1266 C540,1329 590,1398 620,1472 L763,1472 Z" stroke="#000" stroke-width="18"/></svg></div>
<div class="t" style="left:785.70px;top:298.08px;font-size:22.2px;line-height:22.2px;transform:scaleX(1.28)">Igf<svg viewBox="0 0 1139 1536" style="width:0.5562em;height:0.75em;vertical-align:baseline;display:inline-block;overflow:visible"><path transform="matrix(1 0 0 -1 0 1536)" d="M763,0 L583,0 L583,1147 C540,1106 480,1064 412,1023 C340,981 276,950 223,930 L223,1104 C318,1149 400,1203 470,1266 C540,1329 590,1398 620,1472 L763,1472 Z" stroke="#000" stroke-width="18"/></svg></div>
<div class="t" style="left:785.70px;top:321.03px;font-size:22.2px;line-height:22.2px;transform:scaleX(1.28)">Enpp<svg viewBox="0 0 1139 1536" style="width:0.5562em;height:0.75em;vertical-align:baseline;display:inline-block;overflow:visible"><path transform="matrix(1 0 0 -1 0 1536)" d="M763,0 L583,0 L583,1147 C540,1106 480,1064 412,1023 C340,981 276,950 223,930 L223,1104 C318,1149 400,1203 470,1266 C540,1329 590,1398 620,1472 L763,1472 Z" stroke="#000" stroke-width="18"/></svg></div>
<div class="t" style="left:785.70px;top:343.98px;font-size:22.2px;line-height:22.2px;transform:scaleX(1.28)">Ugp2</div>
<div class="t" style="left:785.70px;top:366.94px;font-size:22.2px;line-height:22.2px;transform:scaleX(1.28)">Egf</div>
<div class="t" style="left:785.70px;top:389.89px;font-size:22.2px;line-height:22.2px;transform:scaleX(1.28)">Aldob</div>
<div class="t" style="left:785.70px;top:412.84px;font-size:22.2px;line-height:22.2px;transform:scaleX(1.28)">Nr4a3</div>
<div class="t" style="left:785.70px;top:435.80px;font-size:22.2px;line-height:22.2px;transform:scaleX(1.28)">Cxcl<svg viewBox="0 0 1139 1536" style="width:0.5562em;height:0.75em;vertical-align:baseline;display:inline-block;overflow:visible"><path transform="matrix(1 0 0 -1 0 1536)" d="M763,0 L583,0 L583,1147 C540,1106 480,1064 412,1023 C340,981 276,950 223,930 L223,1104 C318,1149 400,1203 470,1266 C540,1329 590,1398 620,1472 L763,1472 Z" stroke="#000" stroke-width="18"/></svg>3</div>
<div class="t" style="left:785.70px;top:458.75px;font-size:22.2px;line-height:22.2px;transform:scaleX(1.28)">Cxcl5</div>
<div class="t" style="left:785.70px;top:481.70px;font-size:22.2px;line-height:22.2px;transform:scaleX(1.28)">Cxcl<svg viewBox="0 0 1139 1536" style="width:0.5562em;height:0.75em;vertical-align:baseline;display:inline-block;overflow:visible"><path transform="matrix(1 0 0 -1 0 1536)" d="M763,0 L583,0 L583,1147 C540,1106 480,1064 412,1023 C340,981 276,950 223,930 L223,1104 C318,1149 400,1203 470,1266 C540,1329 590,1398 620,1472 L763,1472 Z" stroke="#000" stroke-width="18"/></svg>0</div>
<div class="t" style="left:785.70px;top:504.65px;font-size:22.2px;line-height:22.2px;transform:scaleX(1.28)">Ccl<svg viewBox="0 0 1139 1536" style="width:0.5562em;height:0.75em;vertical-align:baseline;display:inline-block;overflow:visible"><path transform="matrix(1 0 0 -1 0 1536)" d="M763,0 L583,0 L583,1147 C540,1106 480,1064 412,1023 C340,981 276,950 223,930 L223,1104 C318,1149 400,1203 470,1266 C540,1329 590,1398 620,1472 L763,1472 Z" stroke="#000" stroke-width="18"/></svg>2</div>
<div class="t" style="left:785.70px;top:527.61px;font-size:22.2px;line-height:22.2px;transform:scaleX(1.28)">Cxcl<svg viewBox="0 0 1139 1536" style="width:0.5562em;height:0.75em;vertical-align:baseline;display:inline-block;overflow:visible"><path transform="matrix(1 0 0 -1 0 1536)" d="M763,0 L583,0 L583,1147 C540,1106 480,1064 412,1023 C340,981 276,950 223,930 L223,1104 C318,1149 400,1203 470,1266 C540,1329 590,1398 620,1472 L763,1472 Z" stroke="#000" stroke-width="18"/></svg></div>
<div class="t" style="left:785.70px;top:550.56px;font-size:22.2px;line-height:22.2px;transform:scaleX(1.28)">Ccl2</div>
<div class="t" style="left:785.70px;top:573.51px;font-size:22.2px;line-height:22.2px;transform:scaleX(1.28)">Ccl7</div>
<div class="t" style="left:785.70px;top:596.47px;font-size:22.2px;line-height:22.2px;transform:scaleX(1.28)">Ccl<svg viewBox="0 0 1139 1536" style="width:0.5562em;height:0.75em;vertical-align:baseline;display:inline-block;overflow:visible"><path transform="matrix(1 0 0 -1 0 1536)" d="M763,0 L583,0 L583,1147 C540,1106 480,1064 412,1023 C340,981 276,950 223,930 L223,1104 C318,1149 400,1203 470,1266 C540,1329 590,1398 620,1472 L763,1472 Z" stroke="#000" stroke-width="18"/></svg>9</div>
<div class="t" style="left:785.70px;top:619.42px;font-size:22.2px;line-height:22.2px;transform:scaleX(1.28)">Fcgr<svg viewBox="0 0 1139 1536" style="width:0.5562em;height:0.75em;vertical-align:baseline;display:inline-block;overflow:visible"><path transform="matrix(1 0 0 -1 0 1536)" d="M763,0 L583,0 L583,1147 C540,1106 480,1064 412,1023 C340,981 276,950 223,930 L223,1104 C318,1149 400,1203 470,1266 C540,1329 590,1398 620,1472 L763,1472 Z" stroke="#000" stroke-width="18"/></svg></div>
<div class="t" style="left:785.70px;top:642.37px;font-size:22.2px;line-height:22.2px;transform:scaleX(1.28)">Fpr<svg viewBox="0 0 1139 1536" style="width:0.5562em;height:0.75em;vertical-align:baseline;display:inline-block;overflow:visible"><path transform="matrix(1 0 0 -1 0 1536)" d="M763,0 L583,0 L583,1147 C540,1106 480,1064 412,1023 C340,981 276,950 223,930 L223,1104 C318,1149 400,1203 470,1266 C540,1329 590,1398 620,1472 L763,1472 Z" stroke="#000" stroke-width="18"/></svg></div>
<div class="t" style="left:785.70px;top:665.33px;font-size:22.2px;line-height:22.2px;transform:scaleX(1.28)">Marco</div>
<div class="t" style="left:785.70px;top:688.28px;font-size:22.2px;line-height:22.2px;transform:scaleX(1.28)">Apln</div>
<div class="t" style="left:785.70px;top:711.23px;font-size:22.2px;line-height:22.2px;transform:scaleX(1.28)">Aplnr</div>
<div class="t" style="left:785.70px;top:734.18px;font-size:22.2px;line-height:22.2px;transform:scaleX(1.28)">Rpgrip<svg viewBox="0 0 1139 1536" style="width:0.5562em;height:0.75em;vertical-align:baseline;display:inline-block;overflow:visible"><path transform="matrix(1 0 0 -1 0 1536)" d="M763,0 L583,0 L583,1147 C540,1106 480,1064 412,1023 C340,981 276,950 223,930 L223,1104 C318,1149 400,1203 470,1266 C540,1329 590,1398 620,1472 L763,1472 Z" stroke="#000" stroke-width="18"/></svg>l</div>
<div class="t" style="left:785.70px;top:757.14px;font-size:22.2px;line-height:22.2px;transform:scaleX(1.28)">Homer2</div>
<div class="t" style="left:785.70px;top:780.09px;font-size:22.2px;line-height:22.2px;transform:scaleX(1.28)">Rgs6</div>
<div class="t" style="left:785.70px;top:803.04px;font-size:22.2px;line-height:22.2px;transform:scaleX(1.28)">Itgam</div>
<div class="t" style="left:785.70px;top:826.00px;font-size:22.2px;line-height:22.2px;transform:scaleX(1.28)">Rorc</div>
<div class="t" style="left:785.70px;top:848.95px;font-size:22.2px;line-height:22.2px;transform:scaleX(1.28)">St3gal<svg viewBox="0 0 1139 1536" style="width:0.5562em;height:0.75em;vertical-align:baseline;display:inline-block;overflow:visible"><path transform="matrix(1 0 0 -1 0 1536)" d="M763,0 L583,0 L583,1147 C540,1106 480,1064 412,1023 C340,981 276,950 223,930 L223,1104 C318,1149 400,1203 470,1266 C540,1329 590,1398 620,1472 L763,1472 Z" stroke="#000" stroke-width="18"/></svg></div>
<div class="t" style="left:785.70px;top:871.90px;font-size:22.2px;line-height:22.2px;transform:scaleX(1.28)">Bcl3</div>
<div class="t" style="left:785.70px;top:894.86px;font-size:22.2px;line-height:22.2px;transform:scaleX(1.28)">Siglec<svg viewBox="0 0 1139 1536" style="width:0.5562em;height:0.75em;vertical-align:baseline;display:inline-block;overflow:visible"><path transform="matrix(1 0 0 -1 0 1536)" d="M763,0 L583,0 L583,1147 C540,1106 480,1064 412,1023 C340,981 276,950 223,930 L223,1104 C318,1149 400,1203 470,1266 C540,1329 590,1398 620,1472 L763,1472 Z" stroke="#000" stroke-width="18"/></svg></div>
<div class="t" style="left:785.70px;top:917.81px;font-size:22.2px;line-height:22.2px;transform:scaleX(1.28)">Fcgr2b</div>
<div class="t" style="left:785.70px;top:940.76px;font-size:22.2px;line-height:22.2px;transform:scaleX(1.28)">Ccl5</div>
<div class="t" style="left:785.70px;top:963.72px;font-size:22.2px;line-height:22.2px;transform:scaleX(1.28)">Ccl<svg viewBox="0 0 1139 1536" style="width:0.5562em;height:0.75em;vertical-align:baseline;display:inline-block;overflow:visible"><path transform="matrix(1 0 0 -1 0 1536)" d="M763,0 L583,0 L583,1147 C540,1106 480,1064 412,1023 C340,981 276,950 223,930 L223,1104 C318,1149 400,1203 470,1266 C540,1329 590,1398 620,1472 L763,1472 Z" stroke="#000" stroke-width="18"/></svg>9</div>
<div class="t" style="left:785.70px;top:986.67px;font-size:22.2px;line-height:22.2px;transform:scaleX(1.28)">Ccl<svg viewBox="0 0 1139 1536" style="width:0.5562em;height:0.75em;vertical-align:baseline;display:inline-block;overflow:visible"><path transform="matrix(1 0 0 -1 0 1536)" d="M763,0 L583,0 L583,1147 C540,1106 480,1064 412,1023 C340,981 276,950 223,930 L223,1104 C318,1149 400,1203 470,1266 C540,1329 590,1398 620,1472 L763,1472 Z" stroke="#000" stroke-width="18"/></svg>2</div>
<div class="t" style="left:785.70px;top:1009.62px;font-size:22.2px;line-height:22.2px;transform:scaleX(1.28)">Ccl2</div>
<div class="t" style="left:785.70px;top:1032.57px;font-size:22.2px;line-height:22.2px;transform:scaleX(1.28)">Adam8</div>
<div class="t" style="left:785.70px;top:1055.53px;font-size:22.2px;line-height:22.2px;transform:scaleX(1.28)">Cd274</div>
<div class="t" style="left:785.70px;top:1078.48px;font-size:22.2px;line-height:22.2px;transform:scaleX(1.28)">Hcls<svg viewBox="0 0 1139 1536" style="width:0.5562em;height:0.75em;vertical-align:baseline;display:inline-block;overflow:visible"><path transform="matrix(1 0 0 -1 0 1536)" d="M763,0 L583,0 L583,1147 C540,1106 480,1064 412,1023 C340,981 276,950 223,930 L223,1104 C318,1149 400,1203 470,1266 C540,1329 590,1398 620,1472 L763,1472 Z" stroke="#000" stroke-width="18"/></svg></div>
<div class="t" style="left:785.70px;top:1101.43px;font-size:22.2px;line-height:22.2px;transform:scaleX(1.28)">Clec5a</div>
<div class="t" style="left:785.70px;top:1124.39px;font-size:22.2px;line-height:22.2px;transform:scaleX(1.28)">Tnf</div>
<div class="t" style="left:785.70px;top:1147.34px;font-size:22.2px;line-height:22.2px;transform:scaleX(1.28)">Icam<svg viewBox="0 0 1139 1536" style="width:0.5562em;height:0.75em;vertical-align:baseline;display:inline-block;overflow:visible"><path transform="matrix(1 0 0 -1 0 1536)" d="M763,0 L583,0 L583,1147 C540,1106 480,1064 412,1023 C340,981 276,950 223,930 L223,1104 C318,1149 400,1203 470,1266 C540,1329 590,1398 620,1472 L763,1472 Z" stroke="#000" stroke-width="18"/></svg></div>
<div class="t" style="left:785.70px;top:1170.29px;font-size:22.2px;line-height:22.2px;transform:scaleX(1.28)">Tnfaip3</div>
<div class="t" style="left:785.70px;top:1193.24px;font-size:22.2px;line-height:22.2px;transform:scaleX(1.28)">Sema5a</div>
<div class="t" style="left:785.70px;top:1216.20px;font-size:22.2px;line-height:22.2px;transform:scaleX(1.28)">S<svg viewBox="0 0 1139 1536" style="width:0.5562em;height:0.75em;vertical-align:baseline;display:inline-block;overflow:visible"><path transform="matrix(1 0 0 -1 0 1536)" d="M763,0 L583,0 L583,1147 C540,1106 480,1064 412,1023 C340,981 276,950 223,930 L223,1104 C318,1149 400,1203 470,1266 C540,1329 590,1398 620,1472 L763,1472 Z" stroke="#000" stroke-width="18"/></svg>00a8</div>
<div class="t" style="left:785.70px;top:1239.15px;font-size:22.2px;line-height:22.2px;transform:scaleX(1.28)">S<svg viewBox="0 0 1139 1536" style="width:0.5562em;height:0.75em;vertical-align:baseline;display:inline-block;overflow:visible"><path transform="matrix(1 0 0 -1 0 1536)" d="M763,0 L583,0 L583,1147 C540,1106 480,1064 412,1023 C340,981 276,950 223,930 L223,1104 C318,1149 400,1203 470,1266 C540,1329 590,1398 620,1472 L763,1472 Z" stroke="#000" stroke-width="18"/></svg>00a9</div>
<div class="t" style="left:785.70px;top:1262.10px;font-size:22.2px;line-height:22.2px;transform:scaleX(1.28)">Itgam</div>
<div class="t" style="left:785.70px;top:1285.06px;font-size:22.2px;line-height:22.2px;transform:scaleX(1.28)">Lbp</div>
<div class="t" style="left:785.70px;top:1308.01px;font-size:22.2px;line-height:22.2px;transform:scaleX(1.28)">Chil3</div>
<div class="t" style="left:785.70px;top:1330.96px;font-size:22.2px;line-height:22.2px;transform:scaleX(1.28)">Apod</div>
<div class="t" style="left:785.70px;top:1353.92px;font-size:22.2px;line-height:22.2px;transform:scaleX(1.28)">Il<svg viewBox="0 0 1139 1536" style="width:0.5562em;height:0.75em;vertical-align:baseline;display:inline-block;overflow:visible"><path transform="matrix(1 0 0 -1 0 1536)" d="M763,0 L583,0 L583,1147 C540,1106 480,1064 412,1023 C340,981 276,950 223,930 L223,1104 C318,1149 400,1203 470,1266 C540,1329 590,1398 620,1472 L763,1472 Z" stroke="#000" stroke-width="18"/></svg>7ra</div>
<div class="t" style="left:785.70px;top:1376.87px;font-size:22.2px;line-height:22.2px;transform:scaleX(1.28)">Il4ra</div>
<div class="t" style="left:785.70px;top:1399.82px;font-size:22.2px;line-height:22.2px;transform:scaleX(1.28)">Stat3</div>
<div class="t" style="left:785.70px;top:1422.77px;font-size:22.2px;line-height:22.2px;transform:scaleX(1.28)">Aif<svg viewBox="0 0 1139 1536" style="width:0.5562em;height:0.75em;vertical-align:baseline;display:inline-block;overflow:visible"><path transform="matrix(1 0 0 -1 0 1536)" d="M763,0 L583,0 L583,1147 C540,1106 480,1064 412,1023 C340,981 276,950 223,930 L223,1104 C318,1149 400,1203 470,1266 C540,1329 590,1398 620,1472 L763,1472 Z" stroke="#000" stroke-width="18"/></svg></div>
<div class="t" style="left:785.70px;top:1445.73px;font-size:22.2px;line-height:22.2px;transform:scaleX(1.28)">Tlr2</div>
<div class="t" style="left:785.70px;top:1468.68px;font-size:22.2px;line-height:22.2px;transform:scaleX(1.28)">Mmp8</div>
<div class="t" style="left:785.70px;top:1491.63px;font-size:22.2px;line-height:22.2px;transform:scaleX(1.28)">Ccl2</div>
<div class="t" style="left:785.70px;top:1514.59px;font-size:22.2px;line-height:22.2px;transform:scaleX(1.28)">Adam8</div>
<div class="t" style="left:785.70px;top:1537.54px;font-size:22.2px;line-height:22.2px;transform:scaleX(1.28)">Ccl5</div>
<div class="t" style="left:785.70px;top:1560.49px;font-size:22.2px;line-height:22.2px;transform:scaleX(1.28)">Tnf</div>
<div class="t" style="left:785.70px;top:1583.45px;font-size:22.2px;line-height:22.2px;transform:scaleX(1.28)">Il<svg viewBox="0 0 1139 1536" style="width:0.5562em;height:0.75em;vertical-align:baseline;display:inline-block;overflow:visible"><path transform="matrix(1 0 0 -1 0 1536)" d="M763,0 L583,0 L583,1147 C540,1106 480,1064 412,1023 C340,981 276,950 223,930 L223,1104 C318,1149 400,1203 470,1266 C540,1329 590,1398 620,1472 L763,1472 Z" stroke="#000" stroke-width="18"/></svg>b</div>
<div class="t" style="left:785.70px;top:1606.40px;font-size:22.2px;line-height:22.2px;transform:scaleX(1.28)">Fcgr<svg viewBox="0 0 1139 1536" style="width:0.5562em;height:0.75em;vertical-align:baseline;display:inline-block;overflow:visible"><path transform="matrix(1 0 0 -1 0 1536)" d="M763,0 L583,0 L583,1147 C540,1106 480,1064 412,1023 C340,981 276,950 223,930 L223,1104 C318,1149 400,1203 470,1266 C540,1329 590,1398 620,1472 L763,1472 Z" stroke="#000" stroke-width="18"/></svg></div>
<div class="t" style="left:785.70px;top:1629.35px;font-size:22.2px;line-height:22.2px;transform:scaleX(1.28)">Hpse</div>
<div class="t" style="left:785.70px;top:1652.31px;font-size:22.2px;line-height:22.2px;transform:scaleX(1.28)">Spn</div>
<div class="t" style="left:785.70px;top:1675.26px;font-size:22.2px;line-height:22.2px;transform:scaleX(1.28)">Lbp</div>
<div class="t" style="left:785.70px;top:1698.21px;font-size:22.2px;line-height:22.2px;transform:scaleX(1.28)">Tlr<svg viewBox="0 0 1139 1536" style="width:0.5562em;height:0.75em;vertical-align:baseline;display:inline-block;overflow:visible"><path transform="matrix(1 0 0 -1 0 1536)" d="M763,0 L583,0 L583,1147 C540,1106 480,1064 412,1023 C340,981 276,950 223,930 L223,1104 C318,1149 400,1203 470,1266 C540,1329 590,1398 620,1472 L763,1472 Z" stroke="#000" stroke-width="18"/></svg></div>
<div class="t" style="left:785.70px;top:1721.16px;font-size:22.2px;line-height:22.2px;transform:scaleX(1.28)">Tlr2</div>
<div class="t" style="left:785.70px;top:1744.12px;font-size:22.2px;line-height:22.2px;transform:scaleX(1.28)">Irf7</div>
<div class="t" style="left:785.70px;top:1767.07px;font-size:22.2px;line-height:22.2px;transform:scaleX(1.28)">Pik3ap<svg viewBox="0 0 1139 1536" style="width:0.5562em;height:0.75em;vertical-align:baseline;display:inline-block;overflow:visible"><path transform="matrix(1 0 0 -1 0 1536)" d="M763,0 L583,0 L583,1147 C540,1106 480,1064 412,1023 C340,981 276,950 223,930 L223,1104 C318,1149 400,1203 470,1266 C540,1329 590,1398 620,1472 L763,1472 Z" stroke="#000" stroke-width="18"/></svg></div>
<div class="t" style="left:785.70px;top:1790.02px;font-size:22.2px;line-height:22.2px;transform:scaleX(1.28)">Zbp<svg viewBox="0 0 1139 1536" style="width:0.5562em;height:0.75em;vertical-align:baseline;display:inline-block;overflow:visible"><path transform="matrix(1 0 0 -1 0 1536)" d="M763,0 L583,0 L583,1147 C540,1106 480,1064 412,1023 C340,981 276,950 223,930 L223,1104 C318,1149 400,1203 470,1266 C540,1329 590,1398 620,1472 L763,1472 Z" stroke="#000" stroke-width="18"/></svg></div>
<div class="t" style="left:785.70px;top:1812.98px;font-size:22.2px;line-height:22.2px;transform:scaleX(1.28)">Ikbke</div>
<div class="t" style="left:785.70px;top:1835.93px;font-size:22.2px;line-height:22.2px;transform:scaleX(1.28)">Ifitm<svg viewBox="0 0 1139 1536" style="width:0.5562em;height:0.75em;vertical-align:baseline;display:inline-block;overflow:visible"><path transform="matrix(1 0 0 -1 0 1536)" d="M763,0 L583,0 L583,1147 C540,1106 480,1064 412,1023 C340,981 276,950 223,930 L223,1104 C318,1149 400,1203 470,1266 C540,1329 590,1398 620,1472 L763,1472 Z" stroke="#000" stroke-width="18"/></svg></div>
<div class="t" style="left:785.70px;top:1858.88px;font-size:22.2px;line-height:22.2px;transform:scaleX(1.28)">Tnfaip3</div>
<div class="t" style="left:785.70px;top:1881.84px;font-size:22.2px;line-height:22.2px;transform:scaleX(1.28)">Il<svg viewBox="0 0 1139 1536" style="width:0.5562em;height:0.75em;vertical-align:baseline;display:inline-block;overflow:visible"><path transform="matrix(1 0 0 -1 0 1536)" d="M763,0 L583,0 L583,1147 C540,1106 480,1064 412,1023 C340,981 276,950 223,930 L223,1104 C318,1149 400,1203 470,1266 C540,1329 590,1398 620,1472 L763,1472 Z" stroke="#000" stroke-width="18"/></svg>rn</div>
<div class="t" style="left:785.70px;top:1904.79px;font-size:22.2px;line-height:22.2px;transform:scaleX(1.28)">Il<svg viewBox="0 0 1139 1536" style="width:0.5562em;height:0.75em;vertical-align:baseline;display:inline-block;overflow:visible"><path transform="matrix(1 0 0 -1 0 1536)" d="M763,0 L583,0 L583,1147 C540,1106 480,1064 412,1023 C340,981 276,950 223,930 L223,1104 C318,1149 400,1203 470,1266 C540,1329 590,1398 620,1472 L763,1472 Z" stroke="#000" stroke-width="18"/></svg>b</div>
<div class="t" style="left:785.70px;top:1927.74px;font-size:22.2px;line-height:22.2px;transform:scaleX(1.28)">Isg<svg viewBox="0 0 1139 1536" style="width:0.5562em;height:0.75em;vertical-align:baseline;display:inline-block;overflow:visible"><path transform="matrix(1 0 0 -1 0 1536)" d="M763,0 L583,0 L583,1147 C540,1106 480,1064 412,1023 C340,981 276,950 223,930 L223,1104 C318,1149 400,1203 470,1266 C540,1329 590,1398 620,1472 L763,1472 Z" stroke="#000" stroke-width="18"/></svg>5</div>
<div class="t" style="left:785.70px;top:1950.69px;font-size:22.2px;line-height:22.2px;transform:scaleX(1.28)">Oas<svg viewBox="0 0 1139 1536" style="width:0.5562em;height:0.75em;vertical-align:baseline;display:inline-block;overflow:visible"><path transform="matrix(1 0 0 -1 0 1536)" d="M763,0 L583,0 L583,1147 C540,1106 480,1064 412,1023 C340,981 276,950 223,930 L223,1104 C318,1149 400,1203 470,1266 C540,1329 590,1398 620,1472 L763,1472 Z" stroke="#000" stroke-width="18"/></svg>g</div>
<div class="t" style="left:785.70px;top:1973.65px;font-size:22.2px;line-height:22.2px;transform:scaleX(1.28)">Oas<svg viewBox="0 0 1139 1536" style="width:0.5562em;height:0.75em;vertical-align:baseline;display:inline-block;overflow:visible"><path transform="matrix(1 0 0 -1 0 1536)" d="M763,0 L583,0 L583,1147 C540,1106 480,1064 412,1023 C340,981 276,950 223,930 L223,1104 C318,1149 400,1203 470,1266 C540,1329 590,1398 620,1472 L763,1472 Z" stroke="#000" stroke-width="18"/></svg>a</div>
<div class="t" style="left:785.70px;top:1996.60px;font-size:22.2px;line-height:22.2px;transform:scaleX(1.28)">Oas3</div>
<div class="t" style="left:785.70px;top:2019.55px;font-size:22.2px;line-height:22.2px;transform:scaleX(1.28)">Nlrc5</div>
<div class="t" style="left:83.00px;top:151.05px;font-size:22.2px;line-height:22.2px;transform:scaleX(1.29)">Mitochondrial</div>
<div class="t" style="left:15.60px;top:334.45px;font-size:22.2px;line-height:22.2px;transform:scaleX(1.29)">Metabolic process</div>
<div class="t" style="left:132.10px;top:609.65px;font-size:22.2px;line-height:22.2px;transform:scaleX(1.29)">G−protein</div>
<div class="t" style="left:123.40px;top:862.35px;font-size:22.2px;line-height:22.2px;transform:scaleX(1.29)">Apoptotic<svg viewBox="0 0 1139 1536" style="width:0.5562em;height:0.75em;vertical-align:baseline;display:inline-block;overflow:visible"><path transform="matrix(1 0 0 -1 0 1536)" d="M763,0 L583,0 L583,1147 C540,1106 480,1064 412,1023 C340,981 276,950 223,930 L223,1104 C318,1149 400,1203 470,1266 C540,1329 590,1398 620,1472 L763,1472 Z" stroke="#000" stroke-width="18"/></svg></div>
<div class="t" style="left:123.80px;top:1068.45px;font-size:22.2px;line-height:22.2px;transform:scaleX(1.29)">Apoptotic2</div>
<div class="t" style="left:70.60px;top:1309.45px;font-size:22.2px;line-height:22.2px;transform:scaleX(1.29)">Inflammatory<svg viewBox="0 0 1139 1536" style="width:0.5562em;height:0.75em;vertical-align:baseline;display:inline-block;overflow:visible"><path transform="matrix(1 0 0 -1 0 1536)" d="M763,0 L583,0 L583,1147 C540,1106 480,1064 412,1023 C340,981 276,950 223,930 L223,1104 C318,1149 400,1203 470,1266 C540,1329 590,1398 620,1472 L763,1472 Z" stroke="#000" stroke-width="18"/></svg></div>
<div class="t" style="left:70.40px;top:1538.95px;font-size:22.2px;line-height:22.2px;transform:scaleX(1.29)">Inflammatory2</div>
<div class="t" style="left:14.30px;top:1848.15px;font-size:22.2px;line-height:22.2px;transform:scaleX(1.29)">Signaling pathway</div>
<div class="t" style="left:1039.00px;top:853.85px;font-size:22.2px;line-height:22.2px;transform:scaleX(1.28)">Group</div>
<div class="t" style="left:1074.60px;top:895.71px;font-size:21.8px;line-height:21.8px;transform:scaleX(0.905)">Mitochondrial</div>
<div class="t" style="left:1074.60px;top:918.66px;font-size:21.8px;line-height:21.8px;transform:scaleX(0.905)">Metabolic process</div>
<div class="t" style="left:1074.60px;top:941.61px;font-size:21.8px;line-height:21.8px;transform:scaleX(0.905)">G−protein</div>
<div class="t" style="left:1074.60px;top:964.56px;font-size:21.8px;line-height:21.8px;transform:scaleX(0.905)">Apoptotic<svg viewBox="0 0 1139 1536" style="width:0.5562em;height:0.75em;vertical-align:baseline;display:inline-block;overflow:visible"><path transform="matrix(1 0 0 -1 0 1536)" d="M763,0 L583,0 L583,1147 C540,1106 480,1064 412,1023 C340,981 276,950 223,930 L223,1104 C318,1149 400,1203 470,1266 C540,1329 590,1398 620,1472 L763,1472 Z" stroke="#000" stroke-width="18"/></svg></div>
<div class="t" style="left:1074.60px;top:987.51px;font-size:21.8px;line-height:21.8px;transform:scaleX(0.905)">Apoptotic2</div>
<div class="t" style="left:1074.60px;top:1010.46px;font-size:21.8px;line-height:21.8px;transform:scaleX(0.905)">Inflammatory<svg viewBox="0 0 1139 1536" style="width:0.5562em;height:0.75em;vertical-align:baseline;display:inline-block;overflow:visible"><path transform="matrix(1 0 0 -1 0 1536)" d="M763,0 L583,0 L583,1147 C540,1106 480,1064 412,1023 C340,981 276,950 223,930 L223,1104 C318,1149 400,1203 470,1266 C540,1329 590,1398 620,1472 L763,1472 Z" stroke="#000" stroke-width="18"/></svg></div>
<div class="t" style="left:1074.60px;top:1033.41px;font-size:21.8px;line-height:21.8px;transform:scaleX(0.905)">Inflammatory2</div>
<div class="t" style="left:1074.60px;top:1056.36px;font-size:21.8px;line-height:21.8px;transform:scaleX(0.905)">Signaling pathway</div>
<div class="t" style="left:1039.80px;top:1114.85px;font-size:22.2px;line-height:22.2px;transform:scaleX(1.29)">Z−score</div>
<div class="t" style="left:1083.20px;top:1148.65px;font-size:22.2px;line-height:22.2px;transform:scaleX(1.29)">2</div>
<div class="t" style="left:1083.20px;top:1181.15px;font-size:22.2px;line-height:22.2px;transform:scaleX(1.29)"><svg viewBox="0 0 1139 1536" style="width:0.5562em;height:0.75em;vertical-align:baseline;display:inline-block;overflow:visible"><path transform="matrix(1 0 0 -1 0 1536)" d="M763,0 L583,0 L583,1147 C540,1106 480,1064 412,1023 C340,981 276,950 223,930 L223,1104 C318,1149 400,1203 470,1266 C540,1329 590,1398 620,1472 L763,1472 Z" stroke="#000" stroke-width="18"/></svg></div>
<div class="t" style="left:1083.20px;top:1213.65px;font-size:22.2px;line-height:22.2px;transform:scaleX(1.29)">0</div>
<div class="t" style="left:1083.20px;top:1246.15px;font-size:22.2px;line-height:22.2px;transform:scaleX(1.29)">−<svg viewBox="0 0 1139 1536" style="width:0.5562em;height:0.75em;vertical-align:baseline;display:inline-block;overflow:visible"><path transform="matrix(1 0 0 -1 0 1536)" d="M763,0 L583,0 L583,1147 C540,1106 480,1064 412,1023 C340,981 276,950 223,930 L223,1104 C318,1149 400,1203 470,1266 C540,1329 590,1398 620,1472 L763,1472 Z" stroke="#000" stroke-width="18"/></svg></div>
<div class="t" style="left:1083.20px;top:1278.65px;font-size:22.2px;line-height:22.2px;transform:scaleX(1.29)">−2</div>
</body></html>
